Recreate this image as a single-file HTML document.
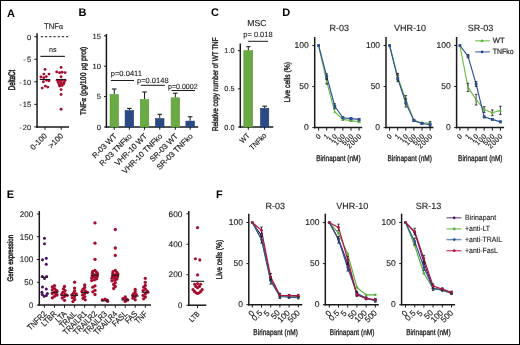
<!DOCTYPE html>
<html><head><meta charset="utf-8"><style>
html,body{margin:0;padding:0;background:#fff;}
svg{display:block;font-family:"Liberation Sans",sans-serif;text-rendering:geometricPrecision;}
</style></head><body>
<svg width="520" height="345" viewBox="0 0 520 345">
<rect x="0" y="0" width="520" height="345" fill="#fff"/>
<g opacity="0.999">
<text x="0" y="0" font-size="11" text-anchor="start" fill="#000" font-weight="bold" transform="translate(6.9 16.5)">A</text>
<text x="0" y="0" font-size="11" text-anchor="start" fill="#000" font-weight="bold" transform="translate(78.6 16.2)">B</text>
<text x="0" y="0" font-size="11" text-anchor="start" fill="#000" font-weight="bold" transform="translate(211 16.3)">C</text>
<text x="0" y="0" font-size="11" text-anchor="start" fill="#000" font-weight="bold" transform="translate(282.3 16.3)">D</text>
<text x="0" y="0" font-size="11" text-anchor="start" fill="#000" font-weight="bold" transform="translate(6.8 198)">E</text>
<text x="0" y="0" font-size="11" text-anchor="start" fill="#000" font-weight="bold" transform="translate(216 198)">F</text>
<line x1="37.05" y1="33.3" x2="37.05" y2="127.65" stroke="#1a1a1a" stroke-width="1.5" />
<line x1="36.3" y1="126.9" x2="69" y2="126.9" stroke="#1a1a1a" stroke-width="1.5" />
<line x1="34.3" y1="36.7" x2="37.05" y2="36.7" stroke="#1a1a1a" stroke-width="1" />
<text x="0" y="0" font-size="7.5" text-anchor="end" fill="#222" stroke="#222" stroke-width="0.12" transform="translate(31.2 39.8)">0</text>
<line x1="34.3" y1="59.25" x2="37.05" y2="59.25" stroke="#1a1a1a" stroke-width="1" />
<text x="0" y="0" font-size="7.5" text-anchor="end" fill="#222" stroke="#222" stroke-width="0.12" transform="translate(31.2 62.35)">-<tspan dx="1.2">5</tspan></text>
<line x1="34.3" y1="81.8" x2="37.05" y2="81.8" stroke="#1a1a1a" stroke-width="1" />
<text x="0" y="0" font-size="7.5" text-anchor="end" fill="#222" stroke="#222" stroke-width="0.12" transform="translate(31.2 84.9)">-<tspan dx="1.2">10</tspan></text>
<line x1="34.3" y1="104.35" x2="37.05" y2="104.35" stroke="#1a1a1a" stroke-width="1" />
<text x="0" y="0" font-size="7.5" text-anchor="end" fill="#222" stroke="#222" stroke-width="0.12" transform="translate(31.2 107.45)">-<tspan dx="1.2">15</tspan></text>
<line x1="34.3" y1="126.9" x2="37.05" y2="126.9" stroke="#1a1a1a" stroke-width="1" />
<text x="0" y="0" font-size="7.5" text-anchor="end" fill="#222" stroke="#222" stroke-width="0.12" transform="translate(31.2 130)">-<tspan dx="1.2">20</tspan></text>
<line x1="40.8" y1="36.7" x2="68.6" y2="36.7" stroke="#1a1a1a" stroke-width="1" stroke-dasharray="2.3 1.9"/>
<text x="0" y="0" font-size="8.3" text-anchor="middle" fill="#222" stroke="#222" stroke-width="0.12" textLength="19.2" lengthAdjust="spacingAndGlyphs" transform="translate(53.5 28.6)">TNF<tspan font-family="Liberation Serif">&#945;</tspan></text>
<text x="0" y="0" font-size="7.2" text-anchor="middle" fill="#222" stroke="#222" stroke-width="0.12" transform="translate(52.8 51.8)">ns</text>
<line x1="40.4" y1="56.35" x2="64.9" y2="56.35" stroke="#111" stroke-width="1.1" />
<line x1="45" y1="126.9" x2="45" y2="129.9" stroke="#1a1a1a" stroke-width="1" />
<line x1="61.2" y1="126.9" x2="61.2" y2="129.9" stroke="#1a1a1a" stroke-width="1" />
<text x="0" y="0" font-size="8" text-anchor="end" fill="#222" stroke="#222" stroke-width="0.18" transform="translate(47.5 136.5) rotate(-45) scale(0.96 1)">0-100</text>
<text x="0" y="0" font-size="8" text-anchor="end" fill="#222" stroke="#222" stroke-width="0.18" transform="translate(63.7 136.5) rotate(-45) scale(0.96 1)">&gt;100</text>
<text x="0" y="0" font-size="9.6" text-anchor="middle" fill="#222" stroke="#222" stroke-width="0.55" transform="translate(15.3 80) rotate(-90) scale(0.64 1)">DeltaCt</text>
<circle cx="45.06" cy="69.4" r="1.45" fill="#a50b2c"/>
<circle cx="43.9" cy="74.1" r="1.45" fill="#a50b2c"/>
<circle cx="49" cy="74.1" r="1.45" fill="#a50b2c"/>
<circle cx="40.9" cy="77" r="1.45" fill="#a50b2c"/>
<circle cx="46.3" cy="76.6" r="1.45" fill="#a50b2c"/>
<circle cx="43.7" cy="77.8" r="1.45" fill="#a50b2c"/>
<circle cx="43.4" cy="81.7" r="1.45" fill="#a50b2c"/>
<circle cx="46.6" cy="80.2" r="1.45" fill="#a50b2c"/>
<circle cx="49" cy="80.7" r="1.45" fill="#a50b2c"/>
<circle cx="42.2" cy="88.1" r="1.45" fill="#a50b2c"/>
<circle cx="45.4" cy="86.1" r="1.45" fill="#a50b2c"/>
<circle cx="47.8" cy="87.1" r="1.45" fill="#a50b2c"/>
<circle cx="61.1" cy="67.4" r="1.45" fill="#a50b2c"/>
<circle cx="56.7" cy="71.9" r="1.45" fill="#a50b2c"/>
<circle cx="59.6" cy="72.8" r="1.45" fill="#a50b2c"/>
<circle cx="62.1" cy="72.3" r="1.45" fill="#a50b2c"/>
<circle cx="65.1" cy="72.6" r="1.45" fill="#a50b2c"/>
<circle cx="61.1" cy="76.8" r="1.45" fill="#a50b2c"/>
<circle cx="57.2" cy="80.3" r="1.45" fill="#a50b2c"/>
<circle cx="59.6" cy="80.7" r="1.45" fill="#a50b2c"/>
<circle cx="62.1" cy="80.3" r="1.45" fill="#a50b2c"/>
<circle cx="65.1" cy="80.3" r="1.45" fill="#a50b2c"/>
<circle cx="58.2" cy="82.4" r="1.45" fill="#a50b2c"/>
<circle cx="61.1" cy="82.8" r="1.45" fill="#a50b2c"/>
<circle cx="64.1" cy="82.4" r="1.45" fill="#a50b2c"/>
<circle cx="59.1" cy="84.4" r="1.45" fill="#a50b2c"/>
<circle cx="61.6" cy="84.9" r="1.45" fill="#a50b2c"/>
<circle cx="63.6" cy="83.9" r="1.45" fill="#a50b2c"/>
<circle cx="59.6" cy="86" r="1.45" fill="#a50b2c"/>
<circle cx="62.1" cy="85.5" r="1.45" fill="#a50b2c"/>
<circle cx="61.1" cy="89.6" r="1.45" fill="#a50b2c"/>
<circle cx="61.1" cy="94.5" r="1.45" fill="#a50b2c"/>
<circle cx="61.1" cy="109.2" r="1.45" fill="#a50b2c"/>
<line x1="39.7" y1="79.5" x2="50.3" y2="79.5" stroke="#1a1a1a" stroke-width="1" />
<line x1="56.2" y1="79.5" x2="66" y2="79.5" stroke="#1a1a1a" stroke-width="1" />
<line x1="106.4" y1="34" x2="106.4" y2="127.75" stroke="#1a1a1a" stroke-width="1.5" />
<line x1="105.65" y1="127" x2="198.2" y2="127" stroke="#1a1a1a" stroke-width="1.5" />
<line x1="104" y1="127" x2="106.4" y2="127" stroke="#1a1a1a" stroke-width="1" />
<text x="0" y="0" font-size="7.6" text-anchor="end" fill="#222" stroke="#222" stroke-width="0.12" transform="translate(100.9 129.7)">0</text>
<line x1="104" y1="96.6" x2="106.4" y2="96.6" stroke="#1a1a1a" stroke-width="1" />
<text x="0" y="0" font-size="7.6" text-anchor="end" fill="#222" stroke="#222" stroke-width="0.12" transform="translate(100.9 99.3)">5</text>
<line x1="104" y1="66.2" x2="106.4" y2="66.2" stroke="#1a1a1a" stroke-width="1" />
<text x="0" y="0" font-size="7.6" text-anchor="end" fill="#222" stroke="#222" stroke-width="0.12" transform="translate(100.9 68.9)">10</text>
<line x1="104" y1="35.8" x2="106.4" y2="35.8" stroke="#1a1a1a" stroke-width="1" />
<text x="0" y="0" font-size="7.6" text-anchor="end" fill="#222" stroke="#222" stroke-width="0.12" transform="translate(100.9 38.5)">15</text>
<text x="0" y="0" font-size="8.2" text-anchor="middle" fill="#222" stroke="#222" stroke-width="0.4" textLength="68.7" lengthAdjust="spacingAndGlyphs" transform="translate(86.3 80.9) rotate(-90)">TNF<tspan font-family="Liberation Serif">&#945;</tspan> (pg/100 <tspan font-family="Liberation Serif">&#956;</tspan>g prot)</text>
<line x1="114.25" y1="94.2" x2="114.25" y2="89" stroke="#1a1a1a" stroke-width="1" />
<line x1="111.95" y1="89" x2="116.55" y2="89" stroke="#1a1a1a" stroke-width="1.1" />
<rect x="110" y="94.5" width="8.5" height="32.5" fill="#6aaa45" stroke="#5a9a38" stroke-width="0.6"/>
<line x1="114.25" y1="127" x2="114.25" y2="129.8" stroke="#1a1a1a" stroke-width="1" />
<line x1="129.35" y1="110.2" x2="129.35" y2="108.4" stroke="#1a1a1a" stroke-width="1" />
<line x1="127.05" y1="108.4" x2="131.65" y2="108.4" stroke="#1a1a1a" stroke-width="1.1" />
<rect x="125.1" y="110.5" width="8.5" height="16.5" fill="#2b4a85" stroke="#1f3b70" stroke-width="0.6"/>
<line x1="129.35" y1="127" x2="129.35" y2="129.8" stroke="#1a1a1a" stroke-width="1" />
<line x1="144.55" y1="99.3" x2="144.55" y2="92" stroke="#1a1a1a" stroke-width="1" />
<line x1="142.25" y1="92" x2="146.85" y2="92" stroke="#1a1a1a" stroke-width="1.1" />
<rect x="140.3" y="99.6" width="8.5" height="27.4" fill="#6aaa45" stroke="#5a9a38" stroke-width="0.6"/>
<line x1="144.55" y1="127" x2="144.55" y2="129.8" stroke="#1a1a1a" stroke-width="1" />
<line x1="159.75" y1="118.3" x2="159.75" y2="114.3" stroke="#1a1a1a" stroke-width="1" />
<line x1="157.45" y1="114.3" x2="162.05" y2="114.3" stroke="#1a1a1a" stroke-width="1.1" />
<rect x="155.5" y="118.6" width="8.5" height="8.4" fill="#2b4a85" stroke="#1f3b70" stroke-width="0.6"/>
<line x1="159.75" y1="127" x2="159.75" y2="129.8" stroke="#1a1a1a" stroke-width="1" />
<line x1="175.35" y1="97.5" x2="175.35" y2="93.2" stroke="#1a1a1a" stroke-width="1" />
<line x1="173.05" y1="93.2" x2="177.65" y2="93.2" stroke="#1a1a1a" stroke-width="1.1" />
<rect x="171.1" y="97.8" width="8.5" height="29.2" fill="#6aaa45" stroke="#5a9a38" stroke-width="0.6"/>
<line x1="175.35" y1="127" x2="175.35" y2="129.8" stroke="#1a1a1a" stroke-width="1" />
<line x1="190.15" y1="120.8" x2="190.15" y2="116.8" stroke="#1a1a1a" stroke-width="1" />
<line x1="187.85" y1="116.8" x2="192.45" y2="116.8" stroke="#1a1a1a" stroke-width="1.1" />
<rect x="185.9" y="121.1" width="8.5" height="5.9" fill="#2b4a85" stroke="#1f3b70" stroke-width="0.6"/>
<line x1="190.15" y1="127" x2="190.15" y2="129.8" stroke="#1a1a1a" stroke-width="1" />
<text x="0" y="0" font-size="7.8" text-anchor="end" fill="#222" stroke="#222" stroke-width="0.18" transform="translate(117.35 136.6) rotate(-45) scale(1 1)">R-03 WT</text>
<text x="0" y="0" font-size="7.8" text-anchor="end" fill="#222" stroke="#222" stroke-width="0.18" transform="translate(132.45 136.6) rotate(-45) scale(1 1)">R-03 TNFko</text>
<text x="0" y="0" font-size="7.8" text-anchor="end" fill="#222" stroke="#222" stroke-width="0.18" transform="translate(147.65 136.6) rotate(-45) scale(1 1)">VHR-10 WT</text>
<text x="0" y="0" font-size="7.8" text-anchor="end" fill="#222" stroke="#222" stroke-width="0.18" transform="translate(162.85 136.6) rotate(-45) scale(1 1)">VHR-10 TNFko</text>
<text x="0" y="0" font-size="7.8" text-anchor="end" fill="#222" stroke="#222" stroke-width="0.18" transform="translate(178.45 136.6) rotate(-45) scale(1 1)">SR-03 WT</text>
<text x="0" y="0" font-size="7.8" text-anchor="end" fill="#222" stroke="#222" stroke-width="0.18" transform="translate(193.25 136.6) rotate(-45) scale(1 1)">SR-03 TNFko</text>
<text x="0" y="0" font-size="7.5" text-anchor="start" fill="#222" stroke="#222" stroke-width="0.12" textLength="31.3" lengthAdjust="spacingAndGlyphs" transform="translate(110.7 76)">p=0.0411</text>
<line x1="110.9" y1="80.5" x2="134" y2="80.5" stroke="#1a1a1a" stroke-width="1" />
<text x="0" y="0" font-size="7.5" text-anchor="start" fill="#222" stroke="#222" stroke-width="0.12" textLength="31.6" lengthAdjust="spacingAndGlyphs" transform="translate(137 82.8)">p=0.0148</text>
<line x1="140.9" y1="85.3" x2="164.8" y2="85.3" stroke="#1a1a1a" stroke-width="1" />
<text x="0" y="0" font-size="7.5" text-anchor="start" fill="#222" stroke="#222" stroke-width="0.12" textLength="29.6" lengthAdjust="spacingAndGlyphs" transform="translate(168 88.9)">p=0.0002</text>
<line x1="171.5" y1="90.5" x2="195" y2="90.5" stroke="#1a1a1a" stroke-width="1" />
<line x1="240.3" y1="43.5" x2="240.3" y2="127.75" stroke="#1a1a1a" stroke-width="1.5" />
<line x1="239.55" y1="127" x2="273.3" y2="127" stroke="#1a1a1a" stroke-width="1.5" />
<line x1="237.9" y1="127" x2="240.3" y2="127" stroke="#1a1a1a" stroke-width="1" />
<text x="0" y="0" font-size="7.3" text-anchor="end" fill="#222" stroke="#222" stroke-width="0.12" transform="translate(234.5 129.6)">0.0</text>
<line x1="237.9" y1="88.85" x2="240.3" y2="88.85" stroke="#1a1a1a" stroke-width="1" />
<text x="0" y="0" font-size="7.3" text-anchor="end" fill="#222" stroke="#222" stroke-width="0.12" transform="translate(234.5 91.45)">0.5</text>
<line x1="237.9" y1="50.7" x2="240.3" y2="50.7" stroke="#1a1a1a" stroke-width="1" />
<text x="0" y="0" font-size="7.3" text-anchor="end" fill="#222" stroke="#222" stroke-width="0.12" transform="translate(234.5 53.3)">1.0</text>
<text x="0" y="0" font-size="8.6" text-anchor="middle" fill="#222" stroke="#222" stroke-width="0.12" transform="translate(256.8 25.8)">MSC</text>
<text x="0" y="0" font-size="7.6" text-anchor="start" fill="#222" stroke="#222" stroke-width="0.12" textLength="29.3" lengthAdjust="spacingAndGlyphs" transform="translate(243.3 37)">p= 0.018</text>
<line x1="248.2" y1="41.3" x2="268.1" y2="41.3" stroke="#1a1a1a" stroke-width="1" />
<text x="0" y="0" font-size="8.2" text-anchor="middle" fill="#222" stroke="#222" stroke-width="0.4" textLength="93.6" lengthAdjust="spacingAndGlyphs" transform="translate(218.4 84.3) rotate(-90)">Relative copy number of WT TNF</text>
<line x1="248.3" y1="50.3" x2="248.3" y2="46.7" stroke="#1a1a1a" stroke-width="1" />
<line x1="246.2" y1="46.7" x2="250.5" y2="46.7" stroke="#1a1a1a" stroke-width="1" />
<rect x="243.8" y="50.6" width="8.9" height="76.4" fill="#6aaa45" stroke="#5a9a38" stroke-width="0.6"/>
<line x1="264.65" y1="108.2" x2="264.65" y2="106.2" stroke="#1a1a1a" stroke-width="1" />
<line x1="262.3" y1="106.2" x2="267" y2="106.2" stroke="#1a1a1a" stroke-width="1.1" />
<rect x="260.5" y="108.4" width="8.3" height="18.6" fill="#2b4a85" stroke="#1f3b70" stroke-width="0.6"/>
<line x1="248.3" y1="127" x2="248.3" y2="129.8" stroke="#1a1a1a" stroke-width="1" />
<line x1="264.65" y1="127" x2="264.65" y2="129.8" stroke="#1a1a1a" stroke-width="1" />
<text x="0" y="0" font-size="7.5" text-anchor="end" fill="#222" stroke="#222" stroke-width="0.18" transform="translate(250.2 136.2) rotate(-45) scale(0.9 1)">WT</text>
<text x="0" y="0" font-size="7.5" text-anchor="end" fill="#222" stroke="#222" stroke-width="0.18" transform="translate(266.9 136.2) rotate(-45) scale(0.9 1)">TNFko</text>
<line x1="314.7" y1="37" x2="314.7" y2="128.35" stroke="#1a1a1a" stroke-width="1.5" />
<line x1="313.95" y1="127.6" x2="362.2" y2="127.6" stroke="#1a1a1a" stroke-width="1.5" />
<line x1="312.3" y1="127.6" x2="314.7" y2="127.6" stroke="#1a1a1a" stroke-width="1" />
<text x="0" y="0" font-size="8.5" text-anchor="end" fill="#222" stroke="#222" stroke-width="0.12" transform="translate(308.8 130.35)">0</text>
<line x1="312.3" y1="86.55" x2="314.7" y2="86.55" stroke="#1a1a1a" stroke-width="1" />
<text x="0" y="0" font-size="8.5" text-anchor="end" fill="#222" stroke="#222" stroke-width="0.12" transform="translate(308.8 89.3)">50</text>
<line x1="312.3" y1="45.5" x2="314.7" y2="45.5" stroke="#1a1a1a" stroke-width="1" />
<text x="0" y="0" font-size="8.5" text-anchor="end" fill="#222" stroke="#222" stroke-width="0.12" transform="translate(308.8 48.25)">100</text>
<text x="0" y="0" font-size="9" text-anchor="middle" fill="#222" stroke="#222" stroke-width="0.12" transform="translate(339.2 31)">R-03</text>
<line x1="318.6" y1="127.6" x2="318.6" y2="130.6" stroke="#1a1a1a" stroke-width="1" />
<text x="0" y="0" font-size="7" text-anchor="end" fill="#222" stroke="#222" stroke-width="0.18" letter-spacing="0.58" transform="translate(321.66 136.3) rotate(-45) scale(1 1)">0</text>
<line x1="326.7" y1="127.6" x2="326.7" y2="130.6" stroke="#1a1a1a" stroke-width="1" />
<text x="0" y="0" font-size="7" text-anchor="end" fill="#222" stroke="#222" stroke-width="0.18" letter-spacing="0.58" transform="translate(329.76 136.3) rotate(-45) scale(1 1)">1</text>
<line x1="334.8" y1="127.6" x2="334.8" y2="130.6" stroke="#1a1a1a" stroke-width="1" />
<text x="0" y="0" font-size="7" text-anchor="end" fill="#222" stroke="#222" stroke-width="0.18" letter-spacing="0.58" transform="translate(337.86 136.3) rotate(-45) scale(1 1)">10</text>
<line x1="342.9" y1="127.6" x2="342.9" y2="130.6" stroke="#1a1a1a" stroke-width="1" />
<text x="0" y="0" font-size="7" text-anchor="end" fill="#222" stroke="#222" stroke-width="0.18" letter-spacing="0.58" transform="translate(345.96 136.3) rotate(-45) scale(1 1)">100</text>
<line x1="351" y1="127.6" x2="351" y2="130.6" stroke="#1a1a1a" stroke-width="1" />
<text x="0" y="0" font-size="7" text-anchor="end" fill="#222" stroke="#222" stroke-width="0.18" letter-spacing="0.58" transform="translate(354.06 136.3) rotate(-45) scale(1 1)">500</text>
<line x1="359.1" y1="127.6" x2="359.1" y2="130.6" stroke="#1a1a1a" stroke-width="1" />
<text x="0" y="0" font-size="7" text-anchor="end" fill="#222" stroke="#222" stroke-width="0.18" letter-spacing="0.58" transform="translate(362.16 136.3) rotate(-45) scale(1 1)">2000</text>
<text x="0" y="0" font-size="8.2" text-anchor="middle" fill="#222" stroke="#222" stroke-width="0.3" textLength="44.5" lengthAdjust="spacingAndGlyphs" transform="translate(338.4 160.8)">Birinapant (nM)</text>
<text x="0" y="0" font-size="8.3" text-anchor="middle" fill="#222" stroke="#222" stroke-width="0.4" textLength="40.5" lengthAdjust="spacingAndGlyphs" transform="translate(290.4 82.1) rotate(-90)">Live cells (%)</text>
<path d="M318.6,45.5 L326.7,81.62 L334.8,112 L342.9,119.39 L351,120.62 L359.1,121.85" fill="none" stroke="#6cbd45" stroke-width="1.15" stroke-linejoin="round"/>
<path d="M318.6,45.5 L326.7,76.29 L334.8,106.25 L342.9,117.75 L351,118.57 L359.1,119.39" fill="none" stroke="#2b4f9a" stroke-width="1.15" stroke-linejoin="round"/>
<path d="M318.6,43.9 L320.1,46.6 L317.1,46.6 Z" fill="#6cbd45"/>
<line x1="326.7" y1="79.16" x2="326.7" y2="84.09" stroke="#1a1a1a" stroke-width="0.8" />
<line x1="325.4" y1="79.16" x2="328" y2="79.16" stroke="#1a1a1a" stroke-width="0.8" />
<line x1="325.4" y1="84.09" x2="328" y2="84.09" stroke="#1a1a1a" stroke-width="0.8" />
<path d="M326.7,80.02 L328.2,82.72 L325.2,82.72 Z" fill="#6cbd45"/>
<path d="M334.8,110.4 L336.3,113.1 L333.3,113.1 Z" fill="#6cbd45"/>
<line x1="342.9" y1="118.57" x2="342.9" y2="120.21" stroke="#1a1a1a" stroke-width="0.8" />
<line x1="341.6" y1="118.57" x2="344.2" y2="118.57" stroke="#1a1a1a" stroke-width="0.8" />
<line x1="341.6" y1="120.21" x2="344.2" y2="120.21" stroke="#1a1a1a" stroke-width="0.8" />
<path d="M342.9,117.79 L344.4,120.49 L341.4,120.49 Z" fill="#6cbd45"/>
<line x1="351" y1="119.8" x2="351" y2="121.44" stroke="#1a1a1a" stroke-width="0.8" />
<line x1="349.7" y1="119.8" x2="352.3" y2="119.8" stroke="#1a1a1a" stroke-width="0.8" />
<line x1="349.7" y1="121.44" x2="352.3" y2="121.44" stroke="#1a1a1a" stroke-width="0.8" />
<path d="M351,119.02 L352.5,121.72 L349.5,121.72 Z" fill="#6cbd45"/>
<line x1="359.1" y1="121.03" x2="359.1" y2="122.67" stroke="#1a1a1a" stroke-width="0.8" />
<line x1="357.8" y1="121.03" x2="360.4" y2="121.03" stroke="#1a1a1a" stroke-width="0.8" />
<line x1="357.8" y1="122.67" x2="360.4" y2="122.67" stroke="#1a1a1a" stroke-width="0.8" />
<path d="M359.1,120.25 L360.6,122.95 L357.6,122.95 Z" fill="#6cbd45"/>
<rect x="317.2" y="44.1" width="2.8" height="2.8" fill="#2b4f9a" stroke="none" stroke-width="0"/>
<line x1="326.7" y1="73.82" x2="326.7" y2="78.75" stroke="#1a1a1a" stroke-width="0.8" />
<line x1="325.4" y1="73.82" x2="328" y2="73.82" stroke="#1a1a1a" stroke-width="0.8" />
<line x1="325.4" y1="78.75" x2="328" y2="78.75" stroke="#1a1a1a" stroke-width="0.8" />
<rect x="325.3" y="74.89" width="2.8" height="2.8" fill="#2b4f9a" stroke="none" stroke-width="0"/>
<line x1="334.8" y1="103.79" x2="334.8" y2="108.72" stroke="#1a1a1a" stroke-width="0.8" />
<line x1="333.5" y1="103.79" x2="336.1" y2="103.79" stroke="#1a1a1a" stroke-width="0.8" />
<line x1="333.5" y1="108.72" x2="336.1" y2="108.72" stroke="#1a1a1a" stroke-width="0.8" />
<rect x="333.4" y="104.85" width="2.8" height="2.8" fill="#2b4f9a" stroke="none" stroke-width="0"/>
<line x1="342.9" y1="116.93" x2="342.9" y2="118.57" stroke="#1a1a1a" stroke-width="0.8" />
<line x1="341.6" y1="116.93" x2="344.2" y2="116.93" stroke="#1a1a1a" stroke-width="0.8" />
<line x1="341.6" y1="118.57" x2="344.2" y2="118.57" stroke="#1a1a1a" stroke-width="0.8" />
<rect x="341.5" y="116.35" width="2.8" height="2.8" fill="#2b4f9a" stroke="none" stroke-width="0"/>
<line x1="351" y1="117.75" x2="351" y2="119.39" stroke="#1a1a1a" stroke-width="0.8" />
<line x1="349.7" y1="117.75" x2="352.3" y2="117.75" stroke="#1a1a1a" stroke-width="0.8" />
<line x1="349.7" y1="119.39" x2="352.3" y2="119.39" stroke="#1a1a1a" stroke-width="0.8" />
<rect x="349.6" y="117.17" width="2.8" height="2.8" fill="#2b4f9a" stroke="none" stroke-width="0"/>
<line x1="359.1" y1="118.57" x2="359.1" y2="120.21" stroke="#1a1a1a" stroke-width="0.8" />
<line x1="357.8" y1="118.57" x2="360.4" y2="118.57" stroke="#1a1a1a" stroke-width="0.8" />
<line x1="357.8" y1="120.21" x2="360.4" y2="120.21" stroke="#1a1a1a" stroke-width="0.8" />
<rect x="357.7" y="117.99" width="2.8" height="2.8" fill="#2b4f9a" stroke="none" stroke-width="0"/>
<line x1="386" y1="37" x2="386" y2="128.35" stroke="#1a1a1a" stroke-width="1.5" />
<line x1="385.25" y1="127.6" x2="433.5" y2="127.6" stroke="#1a1a1a" stroke-width="1.5" />
<line x1="383.6" y1="127.6" x2="386" y2="127.6" stroke="#1a1a1a" stroke-width="1" />
<text x="0" y="0" font-size="8.5" text-anchor="end" fill="#222" stroke="#222" stroke-width="0.12" transform="translate(380.1 130.35)">0</text>
<line x1="383.6" y1="86.55" x2="386" y2="86.55" stroke="#1a1a1a" stroke-width="1" />
<text x="0" y="0" font-size="8.5" text-anchor="end" fill="#222" stroke="#222" stroke-width="0.12" transform="translate(380.1 89.3)">50</text>
<line x1="383.6" y1="45.5" x2="386" y2="45.5" stroke="#1a1a1a" stroke-width="1" />
<text x="0" y="0" font-size="8.5" text-anchor="end" fill="#222" stroke="#222" stroke-width="0.12" transform="translate(380.1 48.25)">100</text>
<text x="0" y="0" font-size="9" text-anchor="middle" fill="#222" stroke="#222" stroke-width="0.12" transform="translate(410 31)">VHR-10</text>
<line x1="389.6" y1="127.6" x2="389.6" y2="130.6" stroke="#1a1a1a" stroke-width="1" />
<text x="0" y="0" font-size="7" text-anchor="end" fill="#222" stroke="#222" stroke-width="0.18" letter-spacing="0.58" transform="translate(392.66 136.3) rotate(-45) scale(1 1)">0</text>
<line x1="397.7" y1="127.6" x2="397.7" y2="130.6" stroke="#1a1a1a" stroke-width="1" />
<text x="0" y="0" font-size="7" text-anchor="end" fill="#222" stroke="#222" stroke-width="0.18" letter-spacing="0.58" transform="translate(400.76 136.3) rotate(-45) scale(1 1)">1</text>
<line x1="405.8" y1="127.6" x2="405.8" y2="130.6" stroke="#1a1a1a" stroke-width="1" />
<text x="0" y="0" font-size="7" text-anchor="end" fill="#222" stroke="#222" stroke-width="0.18" letter-spacing="0.58" transform="translate(408.86 136.3) rotate(-45) scale(1 1)">10</text>
<line x1="413.9" y1="127.6" x2="413.9" y2="130.6" stroke="#1a1a1a" stroke-width="1" />
<text x="0" y="0" font-size="7" text-anchor="end" fill="#222" stroke="#222" stroke-width="0.18" letter-spacing="0.58" transform="translate(416.96 136.3) rotate(-45) scale(1 1)">100</text>
<line x1="422" y1="127.6" x2="422" y2="130.6" stroke="#1a1a1a" stroke-width="1" />
<text x="0" y="0" font-size="7" text-anchor="end" fill="#222" stroke="#222" stroke-width="0.18" letter-spacing="0.58" transform="translate(425.06 136.3) rotate(-45) scale(1 1)">500</text>
<line x1="430.1" y1="127.6" x2="430.1" y2="130.6" stroke="#1a1a1a" stroke-width="1" />
<text x="0" y="0" font-size="7" text-anchor="end" fill="#222" stroke="#222" stroke-width="0.18" letter-spacing="0.58" transform="translate(433.16 136.3) rotate(-45) scale(1 1)">2000</text>
<text x="0" y="0" font-size="8.2" text-anchor="middle" fill="#222" stroke="#222" stroke-width="0.3" textLength="44.5" lengthAdjust="spacingAndGlyphs" transform="translate(409.7 160.8)">Birinapant (nM)</text>
<path d="M389.6,45.5 L397.7,76.7 L405.8,99.69 L413.9,120.21 L422,123.08 L430.1,123.08" fill="none" stroke="#6cbd45" stroke-width="1.15" stroke-linejoin="round"/>
<path d="M389.6,45.5 L397.7,78.34 L405.8,102.97 L413.9,120.62 L422,123.49 L430.1,124.73" fill="none" stroke="#2b4f9a" stroke-width="1.15" stroke-linejoin="round"/>
<path d="M389.6,43.9 L391.1,46.6 L388.1,46.6 Z" fill="#6cbd45"/>
<line x1="397.7" y1="73.41" x2="397.7" y2="79.98" stroke="#1a1a1a" stroke-width="0.8" />
<line x1="396.4" y1="73.41" x2="399" y2="73.41" stroke="#1a1a1a" stroke-width="0.8" />
<line x1="396.4" y1="79.98" x2="399" y2="79.98" stroke="#1a1a1a" stroke-width="0.8" />
<path d="M397.7,75.1 L399.2,77.8 L396.2,77.8 Z" fill="#6cbd45"/>
<line x1="405.8" y1="95.58" x2="405.8" y2="103.79" stroke="#1a1a1a" stroke-width="0.8" />
<line x1="404.5" y1="95.58" x2="407.1" y2="95.58" stroke="#1a1a1a" stroke-width="0.8" />
<line x1="404.5" y1="103.79" x2="407.1" y2="103.79" stroke="#1a1a1a" stroke-width="0.8" />
<path d="M405.8,98.09 L407.3,100.79 L404.3,100.79 Z" fill="#6cbd45"/>
<line x1="413.9" y1="119.39" x2="413.9" y2="121.03" stroke="#1a1a1a" stroke-width="0.8" />
<line x1="412.6" y1="119.39" x2="415.2" y2="119.39" stroke="#1a1a1a" stroke-width="0.8" />
<line x1="412.6" y1="121.03" x2="415.2" y2="121.03" stroke="#1a1a1a" stroke-width="0.8" />
<path d="M413.9,118.61 L415.4,121.31 L412.4,121.31 Z" fill="#6cbd45"/>
<line x1="422" y1="122.26" x2="422" y2="123.91" stroke="#1a1a1a" stroke-width="0.8" />
<line x1="420.7" y1="122.26" x2="423.3" y2="122.26" stroke="#1a1a1a" stroke-width="0.8" />
<line x1="420.7" y1="123.91" x2="423.3" y2="123.91" stroke="#1a1a1a" stroke-width="0.8" />
<path d="M422,121.48 L423.5,124.18 L420.5,124.18 Z" fill="#6cbd45"/>
<line x1="430.1" y1="121.44" x2="430.1" y2="124.73" stroke="#1a1a1a" stroke-width="0.8" />
<line x1="428.8" y1="121.44" x2="431.4" y2="121.44" stroke="#1a1a1a" stroke-width="0.8" />
<line x1="428.8" y1="124.73" x2="431.4" y2="124.73" stroke="#1a1a1a" stroke-width="0.8" />
<path d="M430.1,121.48 L431.6,124.18 L428.6,124.18 Z" fill="#6cbd45"/>
<rect x="388.2" y="44.1" width="2.8" height="2.8" fill="#2b4f9a" stroke="none" stroke-width="0"/>
<line x1="397.7" y1="75.06" x2="397.7" y2="81.62" stroke="#1a1a1a" stroke-width="0.8" />
<line x1="396.4" y1="75.06" x2="399" y2="75.06" stroke="#1a1a1a" stroke-width="0.8" />
<line x1="396.4" y1="81.62" x2="399" y2="81.62" stroke="#1a1a1a" stroke-width="0.8" />
<rect x="396.3" y="76.94" width="2.8" height="2.8" fill="#2b4f9a" stroke="none" stroke-width="0"/>
<line x1="405.8" y1="98.86" x2="405.8" y2="107.07" stroke="#1a1a1a" stroke-width="0.8" />
<line x1="404.5" y1="98.86" x2="407.1" y2="98.86" stroke="#1a1a1a" stroke-width="0.8" />
<line x1="404.5" y1="107.07" x2="407.1" y2="107.07" stroke="#1a1a1a" stroke-width="0.8" />
<rect x="404.4" y="101.57" width="2.8" height="2.8" fill="#2b4f9a" stroke="none" stroke-width="0"/>
<line x1="413.9" y1="119.8" x2="413.9" y2="121.44" stroke="#1a1a1a" stroke-width="0.8" />
<line x1="412.6" y1="119.8" x2="415.2" y2="119.8" stroke="#1a1a1a" stroke-width="0.8" />
<line x1="412.6" y1="121.44" x2="415.2" y2="121.44" stroke="#1a1a1a" stroke-width="0.8" />
<rect x="412.5" y="119.22" width="2.8" height="2.8" fill="#2b4f9a" stroke="none" stroke-width="0"/>
<line x1="422" y1="122.67" x2="422" y2="124.32" stroke="#1a1a1a" stroke-width="0.8" />
<line x1="420.7" y1="122.67" x2="423.3" y2="122.67" stroke="#1a1a1a" stroke-width="0.8" />
<line x1="420.7" y1="124.32" x2="423.3" y2="124.32" stroke="#1a1a1a" stroke-width="0.8" />
<rect x="420.6" y="122.09" width="2.8" height="2.8" fill="#2b4f9a" stroke="none" stroke-width="0"/>
<line x1="430.1" y1="123.08" x2="430.1" y2="126.37" stroke="#1a1a1a" stroke-width="0.8" />
<line x1="428.8" y1="123.08" x2="431.4" y2="123.08" stroke="#1a1a1a" stroke-width="0.8" />
<line x1="428.8" y1="126.37" x2="431.4" y2="126.37" stroke="#1a1a1a" stroke-width="0.8" />
<rect x="428.7" y="123.33" width="2.8" height="2.8" fill="#2b4f9a" stroke="none" stroke-width="0"/>
<line x1="456.6" y1="37" x2="456.6" y2="128.35" stroke="#1a1a1a" stroke-width="1.5" />
<line x1="455.85" y1="127.6" x2="504.1" y2="127.6" stroke="#1a1a1a" stroke-width="1.5" />
<line x1="454.2" y1="127.6" x2="456.6" y2="127.6" stroke="#1a1a1a" stroke-width="1" />
<text x="0" y="0" font-size="8.5" text-anchor="end" fill="#222" stroke="#222" stroke-width="0.12" transform="translate(450.7 130.35)">0</text>
<line x1="454.2" y1="86.55" x2="456.6" y2="86.55" stroke="#1a1a1a" stroke-width="1" />
<text x="0" y="0" font-size="8.5" text-anchor="end" fill="#222" stroke="#222" stroke-width="0.12" transform="translate(450.7 89.3)">50</text>
<line x1="454.2" y1="45.5" x2="456.6" y2="45.5" stroke="#1a1a1a" stroke-width="1" />
<text x="0" y="0" font-size="8.5" text-anchor="end" fill="#222" stroke="#222" stroke-width="0.12" transform="translate(450.7 48.25)">100</text>
<text x="0" y="0" font-size="9" text-anchor="middle" fill="#222" stroke="#222" stroke-width="0.12" transform="translate(480.6 31)">SR-03</text>
<line x1="459.9" y1="127.6" x2="459.9" y2="130.6" stroke="#1a1a1a" stroke-width="1" />
<text x="0" y="0" font-size="7" text-anchor="end" fill="#222" stroke="#222" stroke-width="0.18" letter-spacing="0.58" transform="translate(462.96 136.3) rotate(-45) scale(1 1)">0</text>
<line x1="468" y1="127.6" x2="468" y2="130.6" stroke="#1a1a1a" stroke-width="1" />
<text x="0" y="0" font-size="7" text-anchor="end" fill="#222" stroke="#222" stroke-width="0.18" letter-spacing="0.58" transform="translate(471.06 136.3) rotate(-45) scale(1 1)">1</text>
<line x1="476.1" y1="127.6" x2="476.1" y2="130.6" stroke="#1a1a1a" stroke-width="1" />
<text x="0" y="0" font-size="7" text-anchor="end" fill="#222" stroke="#222" stroke-width="0.18" letter-spacing="0.58" transform="translate(479.16 136.3) rotate(-45) scale(1 1)">10</text>
<line x1="484.2" y1="127.6" x2="484.2" y2="130.6" stroke="#1a1a1a" stroke-width="1" />
<text x="0" y="0" font-size="7" text-anchor="end" fill="#222" stroke="#222" stroke-width="0.18" letter-spacing="0.58" transform="translate(487.26 136.3) rotate(-45) scale(1 1)">100</text>
<line x1="492.3" y1="127.6" x2="492.3" y2="130.6" stroke="#1a1a1a" stroke-width="1" />
<text x="0" y="0" font-size="7" text-anchor="end" fill="#222" stroke="#222" stroke-width="0.18" letter-spacing="0.58" transform="translate(495.36 136.3) rotate(-45) scale(1 1)">500</text>
<line x1="500.4" y1="127.6" x2="500.4" y2="130.6" stroke="#1a1a1a" stroke-width="1" />
<text x="0" y="0" font-size="7" text-anchor="end" fill="#222" stroke="#222" stroke-width="0.18" letter-spacing="0.58" transform="translate(503.46 136.3) rotate(-45) scale(1 1)">2000</text>
<text x="0" y="0" font-size="8.2" text-anchor="middle" fill="#222" stroke="#222" stroke-width="0.3" textLength="44.5" lengthAdjust="spacingAndGlyphs" transform="translate(480.3 160.8)">Birinapant (nM)</text>
<path d="M459.9,45.5 L468,87.37 L476.1,99.69 L484.2,109.54 L492.3,112.82 L500.4,110.36" fill="none" stroke="#6cbd45" stroke-width="1.15" stroke-linejoin="round"/>
<path d="M459.9,45.5 L468,56.17 L476.1,84.09 L484.2,116.93 L492.3,119.39 L500.4,121.85" fill="none" stroke="#2b4f9a" stroke-width="1.15" stroke-linejoin="round"/>
<path d="M459.9,43.9 L461.4,46.6 L458.4,46.6 Z" fill="#6cbd45"/>
<line x1="468" y1="83.27" x2="468" y2="91.48" stroke="#1a1a1a" stroke-width="0.8" />
<line x1="466.7" y1="83.27" x2="469.3" y2="83.27" stroke="#1a1a1a" stroke-width="0.8" />
<line x1="466.7" y1="91.48" x2="469.3" y2="91.48" stroke="#1a1a1a" stroke-width="0.8" />
<path d="M468,85.77 L469.5,88.47 L466.5,88.47 Z" fill="#6cbd45"/>
<line x1="476.1" y1="94.35" x2="476.1" y2="105.02" stroke="#1a1a1a" stroke-width="0.8" />
<line x1="474.8" y1="94.35" x2="477.4" y2="94.35" stroke="#1a1a1a" stroke-width="0.8" />
<line x1="474.8" y1="105.02" x2="477.4" y2="105.02" stroke="#1a1a1a" stroke-width="0.8" />
<path d="M476.1,98.09 L477.6,100.79 L474.6,100.79 Z" fill="#6cbd45"/>
<line x1="484.2" y1="106.66" x2="484.2" y2="112.41" stroke="#1a1a1a" stroke-width="0.8" />
<line x1="482.9" y1="106.66" x2="485.5" y2="106.66" stroke="#1a1a1a" stroke-width="0.8" />
<line x1="482.9" y1="112.41" x2="485.5" y2="112.41" stroke="#1a1a1a" stroke-width="0.8" />
<path d="M484.2,107.94 L485.7,110.64 L482.7,110.64 Z" fill="#6cbd45"/>
<line x1="492.3" y1="109.95" x2="492.3" y2="115.7" stroke="#1a1a1a" stroke-width="0.8" />
<line x1="491" y1="109.95" x2="493.6" y2="109.95" stroke="#1a1a1a" stroke-width="0.8" />
<line x1="491" y1="115.7" x2="493.6" y2="115.7" stroke="#1a1a1a" stroke-width="0.8" />
<path d="M492.3,111.22 L493.8,113.92 L490.8,113.92 Z" fill="#6cbd45"/>
<line x1="500.4" y1="106.25" x2="500.4" y2="114.46" stroke="#1a1a1a" stroke-width="0.8" />
<line x1="499.1" y1="106.25" x2="501.7" y2="106.25" stroke="#1a1a1a" stroke-width="0.8" />
<line x1="499.1" y1="114.46" x2="501.7" y2="114.46" stroke="#1a1a1a" stroke-width="0.8" />
<path d="M500.4,108.76 L501.9,111.46 L498.9,111.46 Z" fill="#6cbd45"/>
<rect x="458.5" y="44.1" width="2.8" height="2.8" fill="#2b4f9a" stroke="none" stroke-width="0"/>
<line x1="468" y1="54.53" x2="468" y2="57.81" stroke="#1a1a1a" stroke-width="0.8" />
<line x1="466.7" y1="54.53" x2="469.3" y2="54.53" stroke="#1a1a1a" stroke-width="0.8" />
<line x1="466.7" y1="57.81" x2="469.3" y2="57.81" stroke="#1a1a1a" stroke-width="0.8" />
<rect x="466.6" y="54.77" width="2.8" height="2.8" fill="#2b4f9a" stroke="none" stroke-width="0"/>
<line x1="476.1" y1="81.62" x2="476.1" y2="86.55" stroke="#1a1a1a" stroke-width="0.8" />
<line x1="474.8" y1="81.62" x2="477.4" y2="81.62" stroke="#1a1a1a" stroke-width="0.8" />
<line x1="474.8" y1="86.55" x2="477.4" y2="86.55" stroke="#1a1a1a" stroke-width="0.8" />
<rect x="474.7" y="82.69" width="2.8" height="2.8" fill="#2b4f9a" stroke="none" stroke-width="0"/>
<line x1="484.2" y1="116.11" x2="484.2" y2="117.75" stroke="#1a1a1a" stroke-width="0.8" />
<line x1="482.9" y1="116.11" x2="485.5" y2="116.11" stroke="#1a1a1a" stroke-width="0.8" />
<line x1="482.9" y1="117.75" x2="485.5" y2="117.75" stroke="#1a1a1a" stroke-width="0.8" />
<rect x="482.8" y="115.53" width="2.8" height="2.8" fill="#2b4f9a" stroke="none" stroke-width="0"/>
<line x1="492.3" y1="118.57" x2="492.3" y2="120.21" stroke="#1a1a1a" stroke-width="0.8" />
<line x1="491" y1="118.57" x2="493.6" y2="118.57" stroke="#1a1a1a" stroke-width="0.8" />
<line x1="491" y1="120.21" x2="493.6" y2="120.21" stroke="#1a1a1a" stroke-width="0.8" />
<rect x="490.9" y="117.99" width="2.8" height="2.8" fill="#2b4f9a" stroke="none" stroke-width="0"/>
<line x1="500.4" y1="121.03" x2="500.4" y2="122.67" stroke="#1a1a1a" stroke-width="0.8" />
<line x1="499.1" y1="121.03" x2="501.7" y2="121.03" stroke="#1a1a1a" stroke-width="0.8" />
<line x1="499.1" y1="122.67" x2="501.7" y2="122.67" stroke="#1a1a1a" stroke-width="0.8" />
<rect x="499" y="120.45" width="2.8" height="2.8" fill="#2b4f9a" stroke="none" stroke-width="0"/>
<line x1="475.1" y1="40.8" x2="489.9" y2="40.8" stroke="#86cc68" stroke-width="1.3" />
<path d="M482.1,39.0 L483.7,41.8 L480.5,41.8 Z" fill="#4fa530"/>
<text x="0" y="0" font-size="7.6" text-anchor="start" fill="#222" stroke="#222" stroke-width="0.2" transform="translate(492.8 43.1)">WT</text>
<line x1="475.1" y1="51.9" x2="489.9" y2="51.9" stroke="#5d7bbd" stroke-width="1.3" />
<circle cx="482.1" cy="51.9" r="1.3" fill="#1f3f8a"/>
<text x="0" y="0" font-size="7.6" text-anchor="start" fill="#222" stroke="#222" stroke-width="0.2" textLength="20.7" lengthAdjust="spacingAndGlyphs" transform="translate(492.8 54.3)">TNFko</text>
<line x1="39.3" y1="211" x2="39.3" y2="305.75" stroke="#1a1a1a" stroke-width="1.5" />
<line x1="38.55" y1="305" x2="151" y2="305" stroke="#1a1a1a" stroke-width="1.5" />
<line x1="36.9" y1="305" x2="39.3" y2="305" stroke="#1a1a1a" stroke-width="1" />
<text x="0" y="0" font-size="8.2" text-anchor="end" fill="#222" stroke="#222" stroke-width="0.12" textLength="4.2" lengthAdjust="spacingAndGlyphs" transform="translate(33.1 307.75)">0</text>
<line x1="36.9" y1="282.25" x2="39.3" y2="282.25" stroke="#1a1a1a" stroke-width="1" />
<text x="0" y="0" font-size="8.2" text-anchor="end" fill="#222" stroke="#222" stroke-width="0.12" textLength="8.8" lengthAdjust="spacingAndGlyphs" transform="translate(33.1 285)">50</text>
<line x1="36.9" y1="259.5" x2="39.3" y2="259.5" stroke="#1a1a1a" stroke-width="1" />
<text x="0" y="0" font-size="8.2" text-anchor="end" fill="#222" stroke="#222" stroke-width="0.12" textLength="13.4" lengthAdjust="spacingAndGlyphs" transform="translate(33.1 262.25)">100</text>
<line x1="36.9" y1="236.75" x2="39.3" y2="236.75" stroke="#1a1a1a" stroke-width="1" />
<text x="0" y="0" font-size="8.2" text-anchor="end" fill="#222" stroke="#222" stroke-width="0.12" textLength="13.4" lengthAdjust="spacingAndGlyphs" transform="translate(33.1 239.5)">150</text>
<line x1="36.9" y1="214" x2="39.3" y2="214" stroke="#1a1a1a" stroke-width="1" />
<text x="0" y="0" font-size="8.2" text-anchor="end" fill="#222" stroke="#222" stroke-width="0.12" textLength="13.4" lengthAdjust="spacingAndGlyphs" transform="translate(33.1 216.75)">200</text>
<text x="0" y="0" font-size="8" text-anchor="middle" fill="#222" stroke="#222" stroke-width="0.5" textLength="46.8" lengthAdjust="spacingAndGlyphs" transform="translate(13.4 258.2) rotate(-90)">Gene expression</text>
<circle cx="44.5" cy="238.2" r="1.5" fill="#4a0f5e"/>
<circle cx="44.5" cy="243.8" r="1.5" fill="#4a0f5e"/>
<circle cx="42.5" cy="259.8" r="1.5" fill="#4a0f5e"/>
<circle cx="46.3" cy="258.3" r="1.5" fill="#4a0f5e"/>
<circle cx="46.3" cy="264.3" r="1.5" fill="#4a0f5e"/>
<circle cx="42.4" cy="276.6" r="1.5" fill="#4a0f5e"/>
<circle cx="46.6" cy="276.6" r="1.5" fill="#4a0f5e"/>
<circle cx="44.5" cy="278.6" r="1.5" fill="#4a0f5e"/>
<circle cx="42.5" cy="287" r="1.5" fill="#4a0f5e"/>
<circle cx="46.3" cy="289" r="1.5" fill="#4a0f5e"/>
<circle cx="41.9" cy="292.2" r="1.5" fill="#4a0f5e"/>
<circle cx="42.3" cy="294.6" r="1.5" fill="#4a0f5e"/>
<circle cx="44.2" cy="296.2" r="1.5" fill="#4a0f5e"/>
<circle cx="46.3" cy="295.6" r="1.5" fill="#4a0f5e"/>
<circle cx="47.4" cy="293.4" r="1.5" fill="#4a0f5e"/>
<line x1="40.8" y1="277.2" x2="48" y2="277.2" stroke="#1a1a1a" stroke-width="1.1" />
<line x1="44.4" y1="305" x2="44.4" y2="307.8" stroke="#1a1a1a" stroke-width="1" />
<text x="0" y="0" font-size="8.3" text-anchor="end" fill="#222" stroke="#222" stroke-width="0.18" transform="translate(47 314.4) rotate(-45) scale(0.87 1)">TNFR2</text>
<circle cx="54.5" cy="285.6" r="1.65" fill="#a50b2c"/>
<circle cx="52.3" cy="287" r="1.65" fill="#a50b2c"/>
<circle cx="54.5" cy="288.6" r="1.65" fill="#a50b2c"/>
<circle cx="52.3" cy="289.8" r="1.65" fill="#a50b2c"/>
<circle cx="56.15" cy="290.5" r="1.65" fill="#a50b2c"/>
<circle cx="57.02" cy="291.2" r="1.65" fill="#a50b2c"/>
<circle cx="54.5" cy="292.4" r="1.65" fill="#a50b2c"/>
<circle cx="52.3" cy="293.6" r="1.65" fill="#a50b2c"/>
<circle cx="56.15" cy="294.2" r="1.65" fill="#a50b2c"/>
<circle cx="57.02" cy="295" r="1.65" fill="#a50b2c"/>
<circle cx="54.5" cy="296.3" r="1.65" fill="#a50b2c"/>
<circle cx="52.3" cy="297.8" r="1.65" fill="#a50b2c"/>
<line x1="50.9" y1="292.3" x2="58.1" y2="292.3" stroke="#1a1a1a" stroke-width="1.1" />
<line x1="54.5" y1="305" x2="54.5" y2="307.8" stroke="#1a1a1a" stroke-width="1" />
<text x="0" y="0" font-size="8.3" text-anchor="end" fill="#222" stroke="#222" stroke-width="0.18" transform="translate(57.1 314.4) rotate(-45) scale(0.87 1)">LTBR</text>
<circle cx="64.5" cy="286.5" r="1.65" fill="#a50b2c"/>
<circle cx="63.4" cy="288.8" r="1.65" fill="#a50b2c"/>
<circle cx="65.05" cy="290.6" r="1.65" fill="#a50b2c"/>
<circle cx="62.85" cy="292.3" r="1.65" fill="#a50b2c"/>
<circle cx="65.05" cy="293.8" r="1.65" fill="#a50b2c"/>
<circle cx="61.75" cy="294.5" r="1.65" fill="#a50b2c"/>
<circle cx="67.25" cy="295.3" r="1.65" fill="#a50b2c"/>
<circle cx="64.5" cy="296.6" r="1.65" fill="#a50b2c"/>
<circle cx="62.3" cy="298" r="1.65" fill="#a50b2c"/>
<circle cx="64.5" cy="300.3" r="1.65" fill="#a50b2c"/>
<line x1="60.9" y1="295.3" x2="68.1" y2="295.3" stroke="#1a1a1a" stroke-width="1.1" />
<line x1="64.5" y1="305" x2="64.5" y2="307.8" stroke="#1a1a1a" stroke-width="1" />
<text x="0" y="0" font-size="8.3" text-anchor="end" fill="#222" stroke="#222" stroke-width="0.18" transform="translate(67.1 314.4) rotate(-45) scale(0.87 1)">LTA</text>
<circle cx="74.6" cy="282.2" r="1.65" fill="#a50b2c"/>
<circle cx="74.6" cy="288.1" r="1.65" fill="#a50b2c"/>
<circle cx="74.6" cy="291" r="1.65" fill="#a50b2c"/>
<circle cx="73.5" cy="293.2" r="1.65" fill="#a50b2c"/>
<circle cx="76.25" cy="294" r="1.65" fill="#a50b2c"/>
<circle cx="71.85" cy="295" r="1.65" fill="#a50b2c"/>
<circle cx="74.6" cy="296.4" r="1.65" fill="#a50b2c"/>
<circle cx="72.4" cy="297.8" r="1.65" fill="#a50b2c"/>
<circle cx="74.6" cy="299.5" r="1.65" fill="#a50b2c"/>
<circle cx="72.95" cy="301.6" r="1.65" fill="#a50b2c"/>
<line x1="71" y1="295.3" x2="78.2" y2="295.3" stroke="#1a1a1a" stroke-width="1.1" />
<line x1="74.6" y1="305" x2="74.6" y2="307.8" stroke="#1a1a1a" stroke-width="1" />
<text x="0" y="0" font-size="8.3" text-anchor="end" fill="#222" stroke="#222" stroke-width="0.18" transform="translate(77.2 314.4) rotate(-45) scale(0.87 1)">TRAIL</text>
<circle cx="84.7" cy="284.9" r="1.65" fill="#a50b2c"/>
<circle cx="84.7" cy="287.4" r="1.65" fill="#a50b2c"/>
<circle cx="83.05" cy="289.2" r="1.65" fill="#a50b2c"/>
<circle cx="85.25" cy="290.8" r="1.65" fill="#a50b2c"/>
<circle cx="81.95" cy="291.5" r="1.65" fill="#a50b2c"/>
<circle cx="87.45" cy="292.3" r="1.65" fill="#a50b2c"/>
<circle cx="84.7" cy="293.6" r="1.65" fill="#a50b2c"/>
<circle cx="82.5" cy="295" r="1.65" fill="#a50b2c"/>
<circle cx="84.7" cy="296.6" r="1.65" fill="#a50b2c"/>
<circle cx="83.05" cy="298.4" r="1.65" fill="#a50b2c"/>
<circle cx="85.25" cy="299.8" r="1.65" fill="#a50b2c"/>
<line x1="81.1" y1="292.6" x2="88.3" y2="292.6" stroke="#1a1a1a" stroke-width="1.1" />
<line x1="84.7" y1="305" x2="84.7" y2="307.8" stroke="#1a1a1a" stroke-width="1" />
<text x="0" y="0" font-size="8.3" text-anchor="end" fill="#222" stroke="#222" stroke-width="0.18" transform="translate(87.3 314.4) rotate(-45) scale(0.87 1)">TRAILR1</text>
<circle cx="95" cy="222.9" r="1.65" fill="#a50b2c"/>
<circle cx="95" cy="243.2" r="1.65" fill="#a50b2c"/>
<circle cx="95" cy="259.3" r="1.65" fill="#a50b2c"/>
<circle cx="95" cy="270.4" r="1.65" fill="#a50b2c"/>
<circle cx="92.8" cy="271.5" r="1.65" fill="#a50b2c"/>
<circle cx="96.65" cy="272.3" r="1.65" fill="#a50b2c"/>
<circle cx="92.48" cy="273.2" r="1.65" fill="#a50b2c"/>
<circle cx="97.52" cy="274" r="1.65" fill="#a50b2c"/>
<circle cx="95" cy="274.8" r="1.65" fill="#a50b2c"/>
<circle cx="92.25" cy="275.6" r="1.65" fill="#a50b2c"/>
<circle cx="97.2" cy="276.4" r="1.65" fill="#a50b2c"/>
<circle cx="94.45" cy="277.2" r="1.65" fill="#a50b2c"/>
<circle cx="91.7" cy="278" r="1.65" fill="#a50b2c"/>
<circle cx="96.65" cy="278.8" r="1.65" fill="#a50b2c"/>
<circle cx="94.45" cy="279.8" r="1.65" fill="#a50b2c"/>
<circle cx="91.7" cy="280.6" r="1.65" fill="#a50b2c"/>
<circle cx="95" cy="285.8" r="1.65" fill="#a50b2c"/>
<circle cx="92.8" cy="287.2" r="1.65" fill="#a50b2c"/>
<circle cx="95" cy="290.3" r="1.65" fill="#a50b2c"/>
<circle cx="92.8" cy="291.8" r="1.65" fill="#a50b2c"/>
<circle cx="95" cy="294.5" r="1.65" fill="#a50b2c"/>
<line x1="91.4" y1="275.2" x2="98.6" y2="275.2" stroke="#1a1a1a" stroke-width="1.1" />
<line x1="95" y1="305" x2="95" y2="307.8" stroke="#1a1a1a" stroke-width="1" />
<text x="0" y="0" font-size="8.3" text-anchor="end" fill="#222" stroke="#222" stroke-width="0.18" transform="translate(97.6 314.4) rotate(-45) scale(0.87 1)">TRAILR2</text>
<circle cx="105.1" cy="299.2" r="1.65" fill="#a50b2c"/>
<circle cx="102.35" cy="300" r="1.65" fill="#a50b2c"/>
<circle cx="107.3" cy="300.2" r="1.65" fill="#a50b2c"/>
<circle cx="107.62" cy="301.3" r="1.65" fill="#a50b2c"/>
<line x1="101.5" y1="300.8" x2="108.7" y2="300.8" stroke="#1a1a1a" stroke-width="1.1" />
<line x1="105.1" y1="305" x2="105.1" y2="307.8" stroke="#1a1a1a" stroke-width="1" />
<text x="0" y="0" font-size="8.3" text-anchor="end" fill="#222" stroke="#222" stroke-width="0.18" transform="translate(107.7 314.4) rotate(-45) scale(0.87 1)">TRAILR3</text>
<circle cx="115.3" cy="229.5" r="1.65" fill="#a50b2c"/>
<circle cx="115.3" cy="248" r="1.65" fill="#a50b2c"/>
<circle cx="115.3" cy="255.4" r="1.65" fill="#a50b2c"/>
<circle cx="115.3" cy="270.4" r="1.65" fill="#a50b2c"/>
<circle cx="113.1" cy="271.6" r="1.65" fill="#a50b2c"/>
<circle cx="116.95" cy="272.5" r="1.65" fill="#a50b2c"/>
<circle cx="112.78" cy="273.4" r="1.65" fill="#a50b2c"/>
<circle cx="117.82" cy="274.2" r="1.65" fill="#a50b2c"/>
<circle cx="115.3" cy="275" r="1.65" fill="#a50b2c"/>
<circle cx="112.55" cy="275.8" r="1.65" fill="#a50b2c"/>
<circle cx="117.5" cy="276.6" r="1.65" fill="#a50b2c"/>
<circle cx="114.75" cy="277.4" r="1.65" fill="#a50b2c"/>
<circle cx="112" cy="278.2" r="1.65" fill="#a50b2c"/>
<circle cx="116.95" cy="279" r="1.65" fill="#a50b2c"/>
<circle cx="114.75" cy="280" r="1.65" fill="#a50b2c"/>
<circle cx="112" cy="280.8" r="1.65" fill="#a50b2c"/>
<circle cx="115.3" cy="282.6" r="1.65" fill="#a50b2c"/>
<circle cx="113.65" cy="284.5" r="1.65" fill="#a50b2c"/>
<circle cx="115.3" cy="286.5" r="1.65" fill="#a50b2c"/>
<circle cx="113.65" cy="288.5" r="1.65" fill="#a50b2c"/>
<line x1="111.7" y1="275.2" x2="118.9" y2="275.2" stroke="#1a1a1a" stroke-width="1.1" />
<line x1="115.3" y1="305" x2="115.3" y2="307.8" stroke="#1a1a1a" stroke-width="1" />
<text x="0" y="0" font-size="8.3" text-anchor="end" fill="#222" stroke="#222" stroke-width="0.18" transform="translate(117.9 314.4) rotate(-45) scale(0.87 1)">TRAILR4</text>
<circle cx="125.2" cy="297" r="1.65" fill="#a50b2c"/>
<circle cx="123" cy="298.6" r="1.65" fill="#a50b2c"/>
<circle cx="126.3" cy="299.2" r="1.65" fill="#a50b2c"/>
<circle cx="127.72" cy="300" r="1.65" fill="#a50b2c"/>
<circle cx="125.2" cy="301.4" r="1.65" fill="#a50b2c"/>
<line x1="121.6" y1="300" x2="128.8" y2="300" stroke="#1a1a1a" stroke-width="1.1" />
<line x1="125.2" y1="305" x2="125.2" y2="307.8" stroke="#1a1a1a" stroke-width="1" />
<text x="0" y="0" font-size="8.3" text-anchor="end" fill="#222" stroke="#222" stroke-width="0.18" transform="translate(127.8 314.4) rotate(-45) scale(0.87 1)">FASL</text>
<circle cx="135.2" cy="289.4" r="1.65" fill="#a50b2c"/>
<circle cx="135.2" cy="292" r="1.65" fill="#a50b2c"/>
<circle cx="133.55" cy="293.8" r="1.65" fill="#a50b2c"/>
<circle cx="136.3" cy="294.6" r="1.65" fill="#a50b2c"/>
<circle cx="132.68" cy="295.4" r="1.65" fill="#a50b2c"/>
<circle cx="135.2" cy="296.8" r="1.65" fill="#a50b2c"/>
<circle cx="133" cy="298.2" r="1.65" fill="#a50b2c"/>
<circle cx="135.2" cy="299.8" r="1.65" fill="#a50b2c"/>
<line x1="131.6" y1="296" x2="138.8" y2="296" stroke="#1a1a1a" stroke-width="1.1" />
<line x1="135.2" y1="305" x2="135.2" y2="307.8" stroke="#1a1a1a" stroke-width="1" />
<text x="0" y="0" font-size="8.3" text-anchor="end" fill="#222" stroke="#222" stroke-width="0.18" transform="translate(137.8 314.4) rotate(-45) scale(0.87 1)">FAS</text>
<circle cx="145.3" cy="278.3" r="1.65" fill="#a50b2c"/>
<circle cx="145.3" cy="282.3" r="1.65" fill="#a50b2c"/>
<circle cx="145.3" cy="285.3" r="1.65" fill="#a50b2c"/>
<circle cx="143.65" cy="287.2" r="1.65" fill="#a50b2c"/>
<circle cx="145.3" cy="289" r="1.65" fill="#a50b2c"/>
<circle cx="143.1" cy="290.6" r="1.65" fill="#a50b2c"/>
<circle cx="146.95" cy="291" r="1.65" fill="#a50b2c"/>
<circle cx="147.82" cy="292.2" r="1.65" fill="#a50b2c"/>
<circle cx="145.3" cy="293.8" r="1.65" fill="#a50b2c"/>
<circle cx="143.1" cy="295.4" r="1.65" fill="#a50b2c"/>
<circle cx="145.3" cy="297" r="1.65" fill="#a50b2c"/>
<circle cx="143.65" cy="298.8" r="1.65" fill="#a50b2c"/>
<line x1="141.7" y1="292.3" x2="148.9" y2="292.3" stroke="#1a1a1a" stroke-width="1.1" />
<line x1="145.3" y1="305" x2="145.3" y2="307.8" stroke="#1a1a1a" stroke-width="1" />
<text x="0" y="0" font-size="8.3" text-anchor="end" fill="#222" stroke="#222" stroke-width="0.18" transform="translate(147.9 314.4) rotate(-45) scale(0.87 1)">TNF</text>
<line x1="188.8" y1="211" x2="188.8" y2="305.95" stroke="#1a1a1a" stroke-width="1.5" />
<line x1="188.05" y1="305.2" x2="206.3" y2="305.2" stroke="#1a1a1a" stroke-width="1.5" />
<line x1="186.4" y1="305.2" x2="188.8" y2="305.2" stroke="#1a1a1a" stroke-width="1" />
<text x="0" y="0" font-size="8.2" text-anchor="end" fill="#222" stroke="#222" stroke-width="0.12" textLength="4.35" lengthAdjust="spacingAndGlyphs" transform="translate(182.4 307.95)">0</text>
<line x1="186.4" y1="274.72" x2="188.8" y2="274.72" stroke="#1a1a1a" stroke-width="1" />
<text x="0" y="0" font-size="8.2" text-anchor="end" fill="#222" stroke="#222" stroke-width="0.12" textLength="13.85" lengthAdjust="spacingAndGlyphs" transform="translate(182.4 277.47)">200</text>
<line x1="186.4" y1="244.24" x2="188.8" y2="244.24" stroke="#1a1a1a" stroke-width="1" />
<text x="0" y="0" font-size="8.2" text-anchor="end" fill="#222" stroke="#222" stroke-width="0.12" textLength="13.85" lengthAdjust="spacingAndGlyphs" transform="translate(182.4 246.99)">400</text>
<line x1="186.4" y1="213.76" x2="188.8" y2="213.76" stroke="#1a1a1a" stroke-width="1" />
<text x="0" y="0" font-size="8.2" text-anchor="end" fill="#222" stroke="#222" stroke-width="0.12" textLength="13.85" lengthAdjust="spacingAndGlyphs" transform="translate(182.4 216.51)">600</text>
<circle cx="197.5" cy="227.6" r="1.55" fill="#a50b2c"/>
<circle cx="195.4" cy="258.7" r="1.55" fill="#a50b2c"/>
<circle cx="199.8" cy="259.9" r="1.55" fill="#a50b2c"/>
<circle cx="197.6" cy="274.9" r="1.55" fill="#a50b2c"/>
<circle cx="194.6" cy="284.3" r="1.55" fill="#a50b2c"/>
<circle cx="197.6" cy="283.6" r="1.55" fill="#a50b2c"/>
<circle cx="200.6" cy="284.3" r="1.55" fill="#a50b2c"/>
<circle cx="195.8" cy="286.4" r="1.55" fill="#a50b2c"/>
<circle cx="199.4" cy="286.4" r="1.55" fill="#a50b2c"/>
<circle cx="197.6" cy="287.8" r="1.55" fill="#a50b2c"/>
<circle cx="193" cy="289.5" r="1.55" fill="#a50b2c"/>
<circle cx="202.2" cy="289.5" r="1.55" fill="#a50b2c"/>
<circle cx="194.4" cy="291.4" r="1.55" fill="#a50b2c"/>
<circle cx="200.8" cy="291.4" r="1.55" fill="#a50b2c"/>
<circle cx="197.6" cy="293.4" r="1.55" fill="#a50b2c"/>
<circle cx="196" cy="292.8" r="1.55" fill="#a50b2c"/>
<circle cx="199.2" cy="292.8" r="1.55" fill="#a50b2c"/>
<line x1="191.1" y1="281.3" x2="204.1" y2="281.3" stroke="#1a1a1a" stroke-width="1.1" />
<line x1="197.5" y1="305.2" x2="197.5" y2="308" stroke="#1a1a1a" stroke-width="1" />
<text x="0" y="0" font-size="7.5" text-anchor="end" fill="#222" stroke="#222" stroke-width="0.18" transform="translate(200.1 314.5) rotate(-45) scale(0.86 1)">LTB</text>
<line x1="248.8" y1="213.7" x2="248.8" y2="305.45" stroke="#1a1a1a" stroke-width="1.5" />
<line x1="248.05" y1="304.7" x2="302.3" y2="304.7" stroke="#1a1a1a" stroke-width="1.5" />
<line x1="246.4" y1="304.7" x2="248.8" y2="304.7" stroke="#1a1a1a" stroke-width="1" />
<text x="0" y="0" font-size="8.5" text-anchor="end" fill="#222" stroke="#222" stroke-width="0.12" transform="translate(242.9 307.45)">0</text>
<line x1="246.4" y1="263.6" x2="248.8" y2="263.6" stroke="#1a1a1a" stroke-width="1" />
<text x="0" y="0" font-size="8.5" text-anchor="end" fill="#222" stroke="#222" stroke-width="0.12" transform="translate(242.9 266.35)">50</text>
<line x1="246.4" y1="222.5" x2="248.8" y2="222.5" stroke="#1a1a1a" stroke-width="1" />
<text x="0" y="0" font-size="8.5" text-anchor="end" fill="#222" stroke="#222" stroke-width="0.12" transform="translate(242.9 225.25)">100</text>
<text x="0" y="0" font-size="9" text-anchor="middle" fill="#222" stroke="#222" stroke-width="0.12" transform="translate(275.3 208.8)">R-03</text>
<line x1="252.3" y1="304.7" x2="252.3" y2="307.5" stroke="#1a1a1a" stroke-width="1" />
<text x="0" y="0" font-size="8.2" text-anchor="end" fill="#222" stroke="#222" stroke-width="0.18" transform="translate(255.09 313.8) rotate(-45) scale(1 1)">0</text>
<line x1="261.5" y1="304.7" x2="261.5" y2="307.5" stroke="#1a1a1a" stroke-width="1" />
<text x="0" y="0" font-size="8.2" text-anchor="end" fill="#222" stroke="#222" stroke-width="0.18" transform="translate(263.09 313.4) rotate(-45) scale(1 1)">0.5</text>
<line x1="270.7" y1="304.7" x2="270.7" y2="307.5" stroke="#1a1a1a" stroke-width="1" />
<text x="0" y="0" font-size="8.2" text-anchor="end" fill="#222" stroke="#222" stroke-width="0.18" transform="translate(270.14 313.8) rotate(-45) scale(1 1)">5</text>
<line x1="279.9" y1="304.7" x2="279.9" y2="307.5" stroke="#1a1a1a" stroke-width="1" />
<text x="0" y="0" font-size="8.2" text-anchor="end" fill="#222" stroke="#222" stroke-width="0.18" transform="translate(280.59 313.4) rotate(-45) scale(1 1)">50</text>
<line x1="289.1" y1="304.7" x2="289.1" y2="307.5" stroke="#1a1a1a" stroke-width="1" />
<text x="0" y="0" font-size="8.2" text-anchor="end" fill="#222" stroke="#222" stroke-width="0.18" transform="translate(290.54 313.4) rotate(-45) scale(1 1)">100</text>
<line x1="298.3" y1="304.7" x2="298.3" y2="307.5" stroke="#1a1a1a" stroke-width="1" />
<text x="0" y="0" font-size="8.2" text-anchor="end" fill="#222" stroke="#222" stroke-width="0.18" transform="translate(300.59 313.4) rotate(-45) scale(1 1)">500</text>
<text x="0" y="0" font-size="8.2" text-anchor="middle" fill="#222" stroke="#222" stroke-width="0.3" textLength="44.5" lengthAdjust="spacingAndGlyphs" transform="translate(275.6 335)">Birinapant (nM)</text>
<path d="M252.3,222.5 L261.5,235.65 L270.7,279.22 L279.9,295.66 L289.1,295.66 L298.3,296.48" fill="none" stroke="#4b1763" stroke-width="1.15" stroke-linejoin="round"/>
<path d="M252.3,222.5 L261.5,238.94 L270.7,280.86 L279.9,295.66 L289.1,296.48 L298.3,297.3" fill="none" stroke="#5cae3c" stroke-width="1.15" stroke-linejoin="round"/>
<path d="M252.3,222.5 L261.5,239.76 L270.7,280.86 L279.9,296.48 L289.1,297.3 L298.3,297.71" fill="none" stroke="#2d4f95" stroke-width="1.15" stroke-linejoin="round"/>
<path d="M252.3,222.5 L261.5,230.31 L270.7,276.75 L279.9,295.25 L289.1,295.66 L298.3,295.66" fill="none" stroke="#b5123d" stroke-width="1.15" stroke-linejoin="round"/>
<circle cx="252.3" cy="222.5" r="1.35" fill="#4b1763"/>
<circle cx="261.5" cy="235.65" r="1.35" fill="#4b1763"/>
<circle cx="270.7" cy="279.22" r="1.35" fill="#4b1763"/>
<circle cx="279.9" cy="295.66" r="1.35" fill="#4b1763"/>
<circle cx="289.1" cy="295.66" r="1.35" fill="#4b1763"/>
<circle cx="298.3" cy="296.48" r="1.35" fill="#4b1763"/>
<circle cx="252.3" cy="222.5" r="1.35" fill="#5cae3c"/>
<circle cx="261.5" cy="238.94" r="1.35" fill="#5cae3c"/>
<circle cx="270.7" cy="280.86" r="1.35" fill="#5cae3c"/>
<circle cx="279.9" cy="295.66" r="1.35" fill="#5cae3c"/>
<circle cx="289.1" cy="296.48" r="1.35" fill="#5cae3c"/>
<circle cx="298.3" cy="297.3" r="1.35" fill="#5cae3c"/>
<circle cx="252.3" cy="222.5" r="1.35" fill="#2d4f95"/>
<line x1="261.5" y1="236.47" x2="261.5" y2="243.05" stroke="#1a1a1a" stroke-width="0.8" />
<line x1="260.2" y1="236.47" x2="262.8" y2="236.47" stroke="#1a1a1a" stroke-width="0.8" />
<line x1="260.2" y1="243.05" x2="262.8" y2="243.05" stroke="#1a1a1a" stroke-width="0.8" />
<circle cx="261.5" cy="239.76" r="1.35" fill="#2d4f95"/>
<line x1="270.7" y1="277.57" x2="270.7" y2="284.15" stroke="#1a1a1a" stroke-width="0.8" />
<line x1="269.4" y1="277.57" x2="272" y2="277.57" stroke="#1a1a1a" stroke-width="0.8" />
<line x1="269.4" y1="284.15" x2="272" y2="284.15" stroke="#1a1a1a" stroke-width="0.8" />
<circle cx="270.7" cy="280.86" r="1.35" fill="#2d4f95"/>
<line x1="279.9" y1="294.43" x2="279.9" y2="298.53" stroke="#1a1a1a" stroke-width="0.8" />
<line x1="278.6" y1="294.43" x2="281.2" y2="294.43" stroke="#1a1a1a" stroke-width="0.8" />
<line x1="278.6" y1="298.53" x2="281.2" y2="298.53" stroke="#1a1a1a" stroke-width="0.8" />
<circle cx="279.9" cy="296.48" r="1.35" fill="#2d4f95"/>
<line x1="289.1" y1="296.07" x2="289.1" y2="298.53" stroke="#1a1a1a" stroke-width="0.8" />
<line x1="287.8" y1="296.07" x2="290.4" y2="296.07" stroke="#1a1a1a" stroke-width="0.8" />
<line x1="287.8" y1="298.53" x2="290.4" y2="298.53" stroke="#1a1a1a" stroke-width="0.8" />
<circle cx="289.1" cy="297.3" r="1.35" fill="#2d4f95"/>
<line x1="298.3" y1="296.48" x2="298.3" y2="298.95" stroke="#1a1a1a" stroke-width="0.8" />
<line x1="297" y1="296.48" x2="299.6" y2="296.48" stroke="#1a1a1a" stroke-width="0.8" />
<line x1="297" y1="298.95" x2="299.6" y2="298.95" stroke="#1a1a1a" stroke-width="0.8" />
<circle cx="298.3" cy="297.71" r="1.35" fill="#2d4f95"/>
<circle cx="252.3" cy="222.5" r="1.35" fill="#b5123d"/>
<line x1="261.5" y1="227.02" x2="261.5" y2="233.6" stroke="#1a1a1a" stroke-width="0.8" />
<line x1="260.2" y1="227.02" x2="262.8" y2="227.02" stroke="#1a1a1a" stroke-width="0.8" />
<line x1="260.2" y1="233.6" x2="262.8" y2="233.6" stroke="#1a1a1a" stroke-width="0.8" />
<circle cx="261.5" cy="230.31" r="1.35" fill="#b5123d"/>
<line x1="270.7" y1="273.46" x2="270.7" y2="280.04" stroke="#1a1a1a" stroke-width="0.8" />
<line x1="269.4" y1="273.46" x2="272" y2="273.46" stroke="#1a1a1a" stroke-width="0.8" />
<line x1="269.4" y1="280.04" x2="272" y2="280.04" stroke="#1a1a1a" stroke-width="0.8" />
<circle cx="270.7" cy="276.75" r="1.35" fill="#b5123d"/>
<line x1="279.9" y1="293.19" x2="279.9" y2="297.3" stroke="#1a1a1a" stroke-width="0.8" />
<line x1="278.6" y1="293.19" x2="281.2" y2="293.19" stroke="#1a1a1a" stroke-width="0.8" />
<line x1="278.6" y1="297.3" x2="281.2" y2="297.3" stroke="#1a1a1a" stroke-width="0.8" />
<circle cx="279.9" cy="295.25" r="1.35" fill="#b5123d"/>
<line x1="289.1" y1="294.43" x2="289.1" y2="296.89" stroke="#1a1a1a" stroke-width="0.8" />
<line x1="287.8" y1="294.43" x2="290.4" y2="294.43" stroke="#1a1a1a" stroke-width="0.8" />
<line x1="287.8" y1="296.89" x2="290.4" y2="296.89" stroke="#1a1a1a" stroke-width="0.8" />
<circle cx="289.1" cy="295.66" r="1.35" fill="#b5123d"/>
<line x1="298.3" y1="294.43" x2="298.3" y2="296.89" stroke="#1a1a1a" stroke-width="0.8" />
<line x1="297" y1="294.43" x2="299.6" y2="294.43" stroke="#1a1a1a" stroke-width="0.8" />
<line x1="297" y1="296.89" x2="299.6" y2="296.89" stroke="#1a1a1a" stroke-width="0.8" />
<circle cx="298.3" cy="295.66" r="1.35" fill="#b5123d"/>
<line x1="325.3" y1="213.7" x2="325.3" y2="305.45" stroke="#1a1a1a" stroke-width="1.5" />
<line x1="324.55" y1="304.7" x2="378.8" y2="304.7" stroke="#1a1a1a" stroke-width="1.5" />
<line x1="322.9" y1="304.7" x2="325.3" y2="304.7" stroke="#1a1a1a" stroke-width="1" />
<text x="0" y="0" font-size="8.5" text-anchor="end" fill="#222" stroke="#222" stroke-width="0.12" transform="translate(319.4 307.45)">0</text>
<line x1="322.9" y1="263.6" x2="325.3" y2="263.6" stroke="#1a1a1a" stroke-width="1" />
<text x="0" y="0" font-size="8.5" text-anchor="end" fill="#222" stroke="#222" stroke-width="0.12" transform="translate(319.4 266.35)">50</text>
<line x1="322.9" y1="222.5" x2="325.3" y2="222.5" stroke="#1a1a1a" stroke-width="1" />
<text x="0" y="0" font-size="8.5" text-anchor="end" fill="#222" stroke="#222" stroke-width="0.12" transform="translate(319.4 225.25)">100</text>
<text x="0" y="0" font-size="9" text-anchor="middle" fill="#222" stroke="#222" stroke-width="0.12" transform="translate(352.2 208.8)">VHR-10</text>
<line x1="329.3" y1="304.7" x2="329.3" y2="307.5" stroke="#1a1a1a" stroke-width="1" />
<text x="0" y="0" font-size="8.2" text-anchor="end" fill="#222" stroke="#222" stroke-width="0.18" transform="translate(332.09 313.8) rotate(-45) scale(1 1)">0</text>
<line x1="338.5" y1="304.7" x2="338.5" y2="307.5" stroke="#1a1a1a" stroke-width="1" />
<text x="0" y="0" font-size="8.2" text-anchor="end" fill="#222" stroke="#222" stroke-width="0.18" transform="translate(340.09 313.4) rotate(-45) scale(1 1)">0.5</text>
<line x1="347.7" y1="304.7" x2="347.7" y2="307.5" stroke="#1a1a1a" stroke-width="1" />
<text x="0" y="0" font-size="8.2" text-anchor="end" fill="#222" stroke="#222" stroke-width="0.18" transform="translate(347.14 313.8) rotate(-45) scale(1 1)">5</text>
<line x1="356.9" y1="304.7" x2="356.9" y2="307.5" stroke="#1a1a1a" stroke-width="1" />
<text x="0" y="0" font-size="8.2" text-anchor="end" fill="#222" stroke="#222" stroke-width="0.18" transform="translate(357.59 313.4) rotate(-45) scale(1 1)">50</text>
<line x1="366.1" y1="304.7" x2="366.1" y2="307.5" stroke="#1a1a1a" stroke-width="1" />
<text x="0" y="0" font-size="8.2" text-anchor="end" fill="#222" stroke="#222" stroke-width="0.18" transform="translate(367.54 313.4) rotate(-45) scale(1 1)">100</text>
<line x1="375.3" y1="304.7" x2="375.3" y2="307.5" stroke="#1a1a1a" stroke-width="1" />
<text x="0" y="0" font-size="8.2" text-anchor="end" fill="#222" stroke="#222" stroke-width="0.18" transform="translate(377.59 313.4) rotate(-45) scale(1 1)">500</text>
<text x="0" y="0" font-size="8.2" text-anchor="middle" fill="#222" stroke="#222" stroke-width="0.3" textLength="44.5" lengthAdjust="spacingAndGlyphs" transform="translate(352.1 335)">Birinapant (nM)</text>
<path d="M329.3,222.5 L338.5,238.94 L347.7,263.6 L356.9,294.84 L366.1,298.53 L375.3,299.77" fill="none" stroke="#4b1763" stroke-width="1.15" stroke-linejoin="round"/>
<path d="M329.3,222.5 L338.5,233.19 L347.7,253.74 L356.9,287.44 L366.1,294.84 L375.3,294.84" fill="none" stroke="#5cae3c" stroke-width="1.15" stroke-linejoin="round"/>
<path d="M329.3,222.5 L338.5,239.76 L347.7,267.71 L356.9,293.19 L366.1,298.12 L375.3,301" fill="none" stroke="#2d4f95" stroke-width="1.15" stroke-linejoin="round"/>
<path d="M329.3,222.5 L338.5,227.43 L347.7,259.49 L356.9,294.43 L366.1,298.53 L375.3,299.77" fill="none" stroke="#b5123d" stroke-width="1.15" stroke-linejoin="round"/>
<circle cx="329.3" cy="222.5" r="1.35" fill="#4b1763"/>
<circle cx="338.5" cy="238.94" r="1.35" fill="#4b1763"/>
<circle cx="347.7" cy="263.6" r="1.35" fill="#4b1763"/>
<circle cx="356.9" cy="294.84" r="1.35" fill="#4b1763"/>
<circle cx="366.1" cy="298.53" r="1.35" fill="#4b1763"/>
<circle cx="375.3" cy="299.77" r="1.35" fill="#4b1763"/>
<circle cx="329.3" cy="222.5" r="1.35" fill="#5cae3c"/>
<circle cx="338.5" cy="233.19" r="1.35" fill="#5cae3c"/>
<circle cx="347.7" cy="253.74" r="1.35" fill="#5cae3c"/>
<circle cx="356.9" cy="287.44" r="1.35" fill="#5cae3c"/>
<circle cx="366.1" cy="294.84" r="1.35" fill="#5cae3c"/>
<circle cx="375.3" cy="294.84" r="1.35" fill="#5cae3c"/>
<circle cx="329.3" cy="222.5" r="1.35" fill="#2d4f95"/>
<line x1="338.5" y1="236.47" x2="338.5" y2="243.05" stroke="#1a1a1a" stroke-width="0.8" />
<line x1="337.2" y1="236.47" x2="339.8" y2="236.47" stroke="#1a1a1a" stroke-width="0.8" />
<line x1="337.2" y1="243.05" x2="339.8" y2="243.05" stroke="#1a1a1a" stroke-width="0.8" />
<circle cx="338.5" cy="239.76" r="1.35" fill="#2d4f95"/>
<line x1="347.7" y1="264.42" x2="347.7" y2="271" stroke="#1a1a1a" stroke-width="0.8" />
<line x1="346.4" y1="264.42" x2="349" y2="264.42" stroke="#1a1a1a" stroke-width="0.8" />
<line x1="346.4" y1="271" x2="349" y2="271" stroke="#1a1a1a" stroke-width="0.8" />
<circle cx="347.7" cy="267.71" r="1.35" fill="#2d4f95"/>
<line x1="356.9" y1="291.14" x2="356.9" y2="295.25" stroke="#1a1a1a" stroke-width="0.8" />
<line x1="355.6" y1="291.14" x2="358.2" y2="291.14" stroke="#1a1a1a" stroke-width="0.8" />
<line x1="355.6" y1="295.25" x2="358.2" y2="295.25" stroke="#1a1a1a" stroke-width="0.8" />
<circle cx="356.9" cy="293.19" r="1.35" fill="#2d4f95"/>
<line x1="366.1" y1="296.89" x2="366.1" y2="299.36" stroke="#1a1a1a" stroke-width="0.8" />
<line x1="364.8" y1="296.89" x2="367.4" y2="296.89" stroke="#1a1a1a" stroke-width="0.8" />
<line x1="364.8" y1="299.36" x2="367.4" y2="299.36" stroke="#1a1a1a" stroke-width="0.8" />
<circle cx="366.1" cy="298.12" r="1.35" fill="#2d4f95"/>
<line x1="375.3" y1="299.77" x2="375.3" y2="302.23" stroke="#1a1a1a" stroke-width="0.8" />
<line x1="374" y1="299.77" x2="376.6" y2="299.77" stroke="#1a1a1a" stroke-width="0.8" />
<line x1="374" y1="302.23" x2="376.6" y2="302.23" stroke="#1a1a1a" stroke-width="0.8" />
<circle cx="375.3" cy="301" r="1.35" fill="#2d4f95"/>
<circle cx="329.3" cy="222.5" r="1.35" fill="#b5123d"/>
<line x1="338.5" y1="224.14" x2="338.5" y2="230.72" stroke="#1a1a1a" stroke-width="0.8" />
<line x1="337.2" y1="224.14" x2="339.8" y2="224.14" stroke="#1a1a1a" stroke-width="0.8" />
<line x1="337.2" y1="230.72" x2="339.8" y2="230.72" stroke="#1a1a1a" stroke-width="0.8" />
<circle cx="338.5" cy="227.43" r="1.35" fill="#b5123d"/>
<line x1="347.7" y1="256.2" x2="347.7" y2="262.78" stroke="#1a1a1a" stroke-width="0.8" />
<line x1="346.4" y1="256.2" x2="349" y2="256.2" stroke="#1a1a1a" stroke-width="0.8" />
<line x1="346.4" y1="262.78" x2="349" y2="262.78" stroke="#1a1a1a" stroke-width="0.8" />
<circle cx="347.7" cy="259.49" r="1.35" fill="#b5123d"/>
<line x1="356.9" y1="292.37" x2="356.9" y2="296.48" stroke="#1a1a1a" stroke-width="0.8" />
<line x1="355.6" y1="292.37" x2="358.2" y2="292.37" stroke="#1a1a1a" stroke-width="0.8" />
<line x1="355.6" y1="296.48" x2="358.2" y2="296.48" stroke="#1a1a1a" stroke-width="0.8" />
<circle cx="356.9" cy="294.43" r="1.35" fill="#b5123d"/>
<line x1="366.1" y1="297.3" x2="366.1" y2="299.77" stroke="#1a1a1a" stroke-width="0.8" />
<line x1="364.8" y1="297.3" x2="367.4" y2="297.3" stroke="#1a1a1a" stroke-width="0.8" />
<line x1="364.8" y1="299.77" x2="367.4" y2="299.77" stroke="#1a1a1a" stroke-width="0.8" />
<circle cx="366.1" cy="298.53" r="1.35" fill="#b5123d"/>
<line x1="375.3" y1="298.53" x2="375.3" y2="301" stroke="#1a1a1a" stroke-width="0.8" />
<line x1="374" y1="298.53" x2="376.6" y2="298.53" stroke="#1a1a1a" stroke-width="0.8" />
<line x1="374" y1="301" x2="376.6" y2="301" stroke="#1a1a1a" stroke-width="0.8" />
<circle cx="375.3" cy="299.77" r="1.35" fill="#b5123d"/>
<line x1="401.6" y1="213.7" x2="401.6" y2="305.45" stroke="#1a1a1a" stroke-width="1.5" />
<line x1="400.85" y1="304.7" x2="455.1" y2="304.7" stroke="#1a1a1a" stroke-width="1.5" />
<line x1="399.2" y1="304.7" x2="401.6" y2="304.7" stroke="#1a1a1a" stroke-width="1" />
<text x="0" y="0" font-size="8.5" text-anchor="end" fill="#222" stroke="#222" stroke-width="0.12" transform="translate(395.7 307.45)">0</text>
<line x1="399.2" y1="263.6" x2="401.6" y2="263.6" stroke="#1a1a1a" stroke-width="1" />
<text x="0" y="0" font-size="8.5" text-anchor="end" fill="#222" stroke="#222" stroke-width="0.12" transform="translate(395.7 266.35)">50</text>
<line x1="399.2" y1="222.5" x2="401.6" y2="222.5" stroke="#1a1a1a" stroke-width="1" />
<text x="0" y="0" font-size="8.5" text-anchor="end" fill="#222" stroke="#222" stroke-width="0.12" transform="translate(395.7 225.25)">100</text>
<text x="0" y="0" font-size="9" text-anchor="middle" fill="#222" stroke="#222" stroke-width="0.12" transform="translate(428.5 208.8)">SR-13</text>
<line x1="405.5" y1="304.7" x2="405.5" y2="307.5" stroke="#1a1a1a" stroke-width="1" />
<text x="0" y="0" font-size="8.2" text-anchor="end" fill="#222" stroke="#222" stroke-width="0.18" transform="translate(408.29 313.8) rotate(-45) scale(1 1)">0</text>
<line x1="414.7" y1="304.7" x2="414.7" y2="307.5" stroke="#1a1a1a" stroke-width="1" />
<text x="0" y="0" font-size="8.2" text-anchor="end" fill="#222" stroke="#222" stroke-width="0.18" transform="translate(416.29 313.4) rotate(-45) scale(1 1)">0.5</text>
<line x1="423.9" y1="304.7" x2="423.9" y2="307.5" stroke="#1a1a1a" stroke-width="1" />
<text x="0" y="0" font-size="8.2" text-anchor="end" fill="#222" stroke="#222" stroke-width="0.18" transform="translate(423.34 313.8) rotate(-45) scale(1 1)">5</text>
<line x1="433.1" y1="304.7" x2="433.1" y2="307.5" stroke="#1a1a1a" stroke-width="1" />
<text x="0" y="0" font-size="8.2" text-anchor="end" fill="#222" stroke="#222" stroke-width="0.18" transform="translate(433.79 313.4) rotate(-45) scale(1 1)">50</text>
<line x1="442.3" y1="304.7" x2="442.3" y2="307.5" stroke="#1a1a1a" stroke-width="1" />
<text x="0" y="0" font-size="8.2" text-anchor="end" fill="#222" stroke="#222" stroke-width="0.18" transform="translate(443.74 313.4) rotate(-45) scale(1 1)">100</text>
<line x1="451.5" y1="304.7" x2="451.5" y2="307.5" stroke="#1a1a1a" stroke-width="1" />
<text x="0" y="0" font-size="8.2" text-anchor="end" fill="#222" stroke="#222" stroke-width="0.18" transform="translate(453.79 313.4) rotate(-45) scale(1 1)">500</text>
<text x="0" y="0" font-size="8.2" text-anchor="middle" fill="#222" stroke="#222" stroke-width="0.3" textLength="44.5" lengthAdjust="spacingAndGlyphs" transform="translate(428.4 335)">Birinapant (nM)</text>
<path d="M405.5,222.5 L414.7,232.36 L423.9,262.37 L433.1,288.51 L442.3,289.9 L451.5,293.19" fill="none" stroke="#4b1763" stroke-width="1.15" stroke-linejoin="round"/>
<path d="M405.5,222.5 L414.7,245.52 L423.9,273.46 L433.1,288.51 L442.3,290.31 L451.5,293.52" fill="none" stroke="#5cae3c" stroke-width="1.15" stroke-linejoin="round"/>
<path d="M405.5,222.5 L414.7,241.41 L423.9,267.3 L433.1,288.51 L442.3,289.9 L451.5,293.19" fill="none" stroke="#2d4f95" stroke-width="1.15" stroke-linejoin="round"/>
<path d="M405.5,222.5 L414.7,231.54 L423.9,258.67 L433.1,286.04 L442.3,289.08 L451.5,292.37" fill="none" stroke="#b5123d" stroke-width="1.15" stroke-linejoin="round"/>
<circle cx="405.5" cy="222.5" r="1.35" fill="#4b1763"/>
<circle cx="414.7" cy="232.36" r="1.35" fill="#4b1763"/>
<circle cx="423.9" cy="262.37" r="1.35" fill="#4b1763"/>
<circle cx="433.1" cy="288.51" r="1.35" fill="#4b1763"/>
<circle cx="442.3" cy="289.9" r="1.35" fill="#4b1763"/>
<circle cx="451.5" cy="293.19" r="1.35" fill="#4b1763"/>
<circle cx="405.5" cy="222.5" r="1.35" fill="#5cae3c"/>
<circle cx="414.7" cy="245.52" r="1.35" fill="#5cae3c"/>
<circle cx="423.9" cy="273.46" r="1.35" fill="#5cae3c"/>
<circle cx="433.1" cy="288.51" r="1.35" fill="#5cae3c"/>
<circle cx="442.3" cy="290.31" r="1.35" fill="#5cae3c"/>
<circle cx="451.5" cy="293.52" r="1.35" fill="#5cae3c"/>
<circle cx="405.5" cy="222.5" r="1.35" fill="#2d4f95"/>
<line x1="414.7" y1="238.12" x2="414.7" y2="244.69" stroke="#1a1a1a" stroke-width="0.8" />
<line x1="413.4" y1="238.12" x2="416" y2="238.12" stroke="#1a1a1a" stroke-width="0.8" />
<line x1="413.4" y1="244.69" x2="416" y2="244.69" stroke="#1a1a1a" stroke-width="0.8" />
<circle cx="414.7" cy="241.41" r="1.35" fill="#2d4f95"/>
<line x1="423.9" y1="264.01" x2="423.9" y2="270.59" stroke="#1a1a1a" stroke-width="0.8" />
<line x1="422.6" y1="264.01" x2="425.2" y2="264.01" stroke="#1a1a1a" stroke-width="0.8" />
<line x1="422.6" y1="270.59" x2="425.2" y2="270.59" stroke="#1a1a1a" stroke-width="0.8" />
<circle cx="423.9" cy="267.3" r="1.35" fill="#2d4f95"/>
<line x1="433.1" y1="286.45" x2="433.1" y2="290.56" stroke="#1a1a1a" stroke-width="0.8" />
<line x1="431.8" y1="286.45" x2="434.4" y2="286.45" stroke="#1a1a1a" stroke-width="0.8" />
<line x1="431.8" y1="290.56" x2="434.4" y2="290.56" stroke="#1a1a1a" stroke-width="0.8" />
<circle cx="433.1" cy="288.51" r="1.35" fill="#2d4f95"/>
<line x1="442.3" y1="288.67" x2="442.3" y2="291.14" stroke="#1a1a1a" stroke-width="0.8" />
<line x1="441" y1="288.67" x2="443.6" y2="288.67" stroke="#1a1a1a" stroke-width="0.8" />
<line x1="441" y1="291.14" x2="443.6" y2="291.14" stroke="#1a1a1a" stroke-width="0.8" />
<circle cx="442.3" cy="289.9" r="1.35" fill="#2d4f95"/>
<line x1="451.5" y1="291.96" x2="451.5" y2="294.43" stroke="#1a1a1a" stroke-width="0.8" />
<line x1="450.2" y1="291.96" x2="452.8" y2="291.96" stroke="#1a1a1a" stroke-width="0.8" />
<line x1="450.2" y1="294.43" x2="452.8" y2="294.43" stroke="#1a1a1a" stroke-width="0.8" />
<circle cx="451.5" cy="293.19" r="1.35" fill="#2d4f95"/>
<circle cx="405.5" cy="222.5" r="1.35" fill="#b5123d"/>
<line x1="414.7" y1="228.25" x2="414.7" y2="234.83" stroke="#1a1a1a" stroke-width="0.8" />
<line x1="413.4" y1="228.25" x2="416" y2="228.25" stroke="#1a1a1a" stroke-width="0.8" />
<line x1="413.4" y1="234.83" x2="416" y2="234.83" stroke="#1a1a1a" stroke-width="0.8" />
<circle cx="414.7" cy="231.54" r="1.35" fill="#b5123d"/>
<line x1="423.9" y1="255.38" x2="423.9" y2="261.96" stroke="#1a1a1a" stroke-width="0.8" />
<line x1="422.6" y1="255.38" x2="425.2" y2="255.38" stroke="#1a1a1a" stroke-width="0.8" />
<line x1="422.6" y1="261.96" x2="425.2" y2="261.96" stroke="#1a1a1a" stroke-width="0.8" />
<circle cx="423.9" cy="258.67" r="1.35" fill="#b5123d"/>
<line x1="433.1" y1="283.99" x2="433.1" y2="288.1" stroke="#1a1a1a" stroke-width="0.8" />
<line x1="431.8" y1="283.99" x2="434.4" y2="283.99" stroke="#1a1a1a" stroke-width="0.8" />
<line x1="431.8" y1="288.1" x2="434.4" y2="288.1" stroke="#1a1a1a" stroke-width="0.8" />
<circle cx="433.1" cy="286.04" r="1.35" fill="#b5123d"/>
<line x1="442.3" y1="287.85" x2="442.3" y2="290.31" stroke="#1a1a1a" stroke-width="0.8" />
<line x1="441" y1="287.85" x2="443.6" y2="287.85" stroke="#1a1a1a" stroke-width="0.8" />
<line x1="441" y1="290.31" x2="443.6" y2="290.31" stroke="#1a1a1a" stroke-width="0.8" />
<circle cx="442.3" cy="289.08" r="1.35" fill="#b5123d"/>
<line x1="451.5" y1="291.14" x2="451.5" y2="293.6" stroke="#1a1a1a" stroke-width="0.8" />
<line x1="450.2" y1="291.14" x2="452.8" y2="291.14" stroke="#1a1a1a" stroke-width="0.8" />
<line x1="450.2" y1="293.6" x2="452.8" y2="293.6" stroke="#1a1a1a" stroke-width="0.8" />
<circle cx="451.5" cy="292.37" r="1.35" fill="#b5123d"/>
<text x="0" y="0" font-size="8.3" text-anchor="middle" fill="#222" stroke="#222" stroke-width="0.4" textLength="39.5" lengthAdjust="spacingAndGlyphs" transform="translate(222.2 259.6) rotate(-90)">Live cells (%)</text>
<line x1="446.4" y1="217.8" x2="461.5" y2="217.8" stroke="#8e6aa3" stroke-width="1.4" />
<circle cx="454.2" cy="217.8" r="1.4" fill="#4b1763"/>
<text x="0" y="0" font-size="7.6" text-anchor="start" fill="#222" stroke="#222" stroke-width="0.12" transform="translate(465 220.1) scale(0.91 1)">Birinapant</text>
<line x1="446.4" y1="228.9" x2="461.5" y2="228.9" stroke="#8ccc74" stroke-width="1.4" />
<circle cx="454.2" cy="228.9" r="1.4" fill="#5cae3c"/>
<text x="0" y="0" font-size="7.6" text-anchor="start" fill="#222" stroke="#222" stroke-width="0.12" transform="translate(465 231.2) scale(0.91 1)">+anti-LT</text>
<line x1="446.4" y1="239.6" x2="461.5" y2="239.6" stroke="#6d8cc4" stroke-width="1.4" />
<circle cx="454.2" cy="239.6" r="1.4" fill="#2d4f95"/>
<text x="0" y="0" font-size="7.6" text-anchor="start" fill="#222" stroke="#222" stroke-width="0.12" transform="translate(465 241.9) scale(0.91 1)">+anti-TRAIL</text>
<line x1="446.4" y1="250.7" x2="461.5" y2="250.7" stroke="#cf5a78" stroke-width="1.4" />
<circle cx="454.2" cy="250.7" r="1.4" fill="#b5123d"/>
<text x="0" y="0" font-size="7.6" text-anchor="start" fill="#222" stroke="#222" stroke-width="0.12" transform="translate(465 253) scale(0.91 1)">+anti-FasL</text>
</g>
<rect x="0.5" y="0.5" width="519" height="344" fill="none" stroke="#000" stroke-width="1"/>
</svg>
</body></html>
